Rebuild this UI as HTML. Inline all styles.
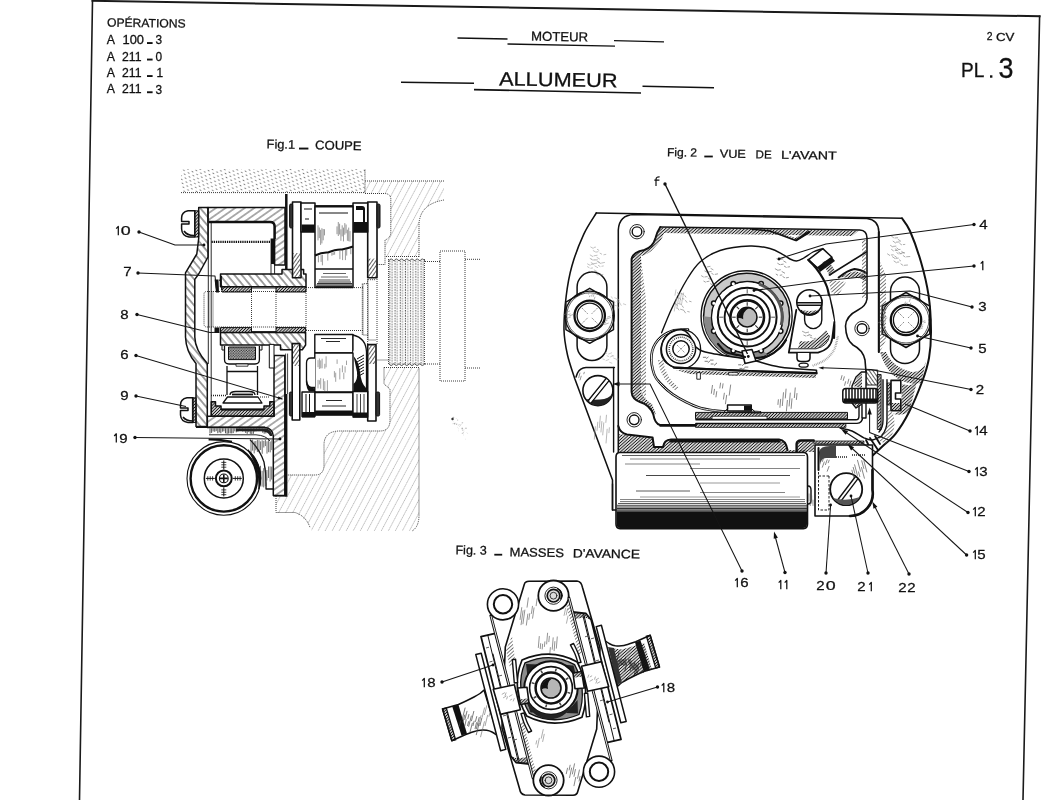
<!DOCTYPE html>
<html><head><meta charset="utf-8"><title>PL.3 Allumeur</title>
<style>
html,body{margin:0;padding:0;background:#fff;}
svg{display:block;filter:blur(0.45px);}
text{font-family:"Liberation Sans",sans-serif;fill:#111;}
</style></head><body>
<svg width="1061" height="800" viewBox="0 0 1061 800">
<rect width="1061" height="800" fill="#fff"/>
<g fill="none" stroke="#1a1a1a" stroke-width="1.6" stroke-linecap="square">
<path d="M79.5 800 L92.5 0.8 M1039.6 16.2 L1023 800"/>
<path d="M92.5 0.8 L1039.6 16.2" stroke-width="2"/>
</g>
<text x="107" y="26.5" font-size="12" textLength="78.5" lengthAdjust="spacingAndGlyphs" transform="rotate(0.9 107 26.5)" stroke="#111" stroke-width="0.28">OPÉRATIONS</text>
<text x="106.8" y="44" font-size="12" textLength="8.2" lengthAdjust="spacingAndGlyphs" stroke="#111" stroke-width="0.28">A</text>
<text x="122.5" y="44.2" font-size="12" textLength="21.5" lengthAdjust="spacingAndGlyphs" stroke="#111" stroke-width="0.28">100</text>
<rect x="147" y="42.1" width="5.6" height="1.9" fill="#111"/>
<text x="155.5" y="44.4" font-size="12" textLength="6.6" lengthAdjust="spacingAndGlyphs" stroke="#111" stroke-width="0.28">3</text>
<text x="106.8" y="60.5" font-size="12" textLength="8.2" lengthAdjust="spacingAndGlyphs" stroke="#111" stroke-width="0.28">A</text>
<text x="122" y="60.7" font-size="12" textLength="19.5" lengthAdjust="spacingAndGlyphs" stroke="#111" stroke-width="0.28">211</text>
<rect x="147" y="58.6" width="5.6" height="1.9" fill="#111"/>
<text x="155.5" y="60.9" font-size="12" textLength="6.6" lengthAdjust="spacingAndGlyphs" stroke="#111" stroke-width="0.28">0</text>
<text x="106.8" y="77" font-size="12" textLength="8.2" lengthAdjust="spacingAndGlyphs" stroke="#111" stroke-width="0.28">A</text>
<text x="122" y="77.2" font-size="12" textLength="19.5" lengthAdjust="spacingAndGlyphs" stroke="#111" stroke-width="0.28">211</text>
<rect x="147" y="75.1" width="5.6" height="1.9" fill="#111"/>
<text x="156.5" y="77.4" font-size="12" textLength="6.6" lengthAdjust="spacingAndGlyphs" stroke="#111" stroke-width="0.28">1</text>
<text x="106.8" y="93.2" font-size="12" textLength="8.2" lengthAdjust="spacingAndGlyphs" stroke="#111" stroke-width="0.28">A</text>
<text x="122" y="93.4" font-size="12" textLength="19.5" lengthAdjust="spacingAndGlyphs" stroke="#111" stroke-width="0.28">211</text>
<rect x="147" y="91.3" width="5.6" height="1.9" fill="#111"/>
<text x="155.5" y="93.60000000000001" font-size="12" textLength="6.6" lengthAdjust="spacingAndGlyphs" stroke="#111" stroke-width="0.28">3</text>
<text x="531" y="40.6" font-size="13" textLength="57" lengthAdjust="spacingAndGlyphs" transform="rotate(0.9 531 40.6)" stroke="#111" stroke-width="0.28">MOTEUR</text>
<g stroke="#111" stroke-width="1.3" fill="none">
<path d="M457.5 38 L507.5 39"/><path d="M507.5 44 L615 46.2"/><path d="M614 40.6 L664 41.8"/>
</g>
<text x="499" y="85.4" font-size="19.5" textLength="118.5" lengthAdjust="spacingAndGlyphs" transform="rotate(0.9 499 85.4)" stroke="#111" stroke-width="0.28">ALLUMEUR</text>
<g stroke="#111" stroke-width="1.6" fill="none">
<path d="M401 82.3 L474 83.2"/><path d="M474 89.6 L641 93"/><path d="M642.5 86.3 L714 87.8"/>
</g>
<text x="986.7" y="40.4" font-size="11.5" textLength="5.8" lengthAdjust="spacingAndGlyphs" stroke="#111" stroke-width="0.28">2</text>
<text x="996" y="40.6" font-size="11.5" textLength="18.5" lengthAdjust="spacingAndGlyphs" stroke="#111" stroke-width="0.28">CV</text>
<text x="961" y="77.3" font-size="19.5" textLength="23.3" lengthAdjust="spacingAndGlyphs" stroke="#111" stroke-width="0.28">PL</text>
<rect x="990" y="75.3" width="2.4" height="2.4" fill="#111"/>
<text x="998.6" y="78.2" font-size="30" textLength="15" lengthAdjust="spacingAndGlyphs" stroke="#111" stroke-width="0.28">3</text>
<text x="266.6" y="148.3" font-size="12.5" textLength="28.4" lengthAdjust="spacingAndGlyphs" transform="rotate(0.9 266.6 148.3)" stroke="#111" stroke-width="0.28">Fig.1</text>
<rect x="299" y="147.6" width="9.4" height="1.9" fill="#111"/>
<text x="315" y="149.3" font-size="12.5" textLength="46.6" lengthAdjust="spacingAndGlyphs" transform="rotate(0.9 315 149.3)" stroke="#111" stroke-width="0.28">COUPE</text>
<text x="667" y="156.2" font-size="11.8" textLength="30" lengthAdjust="spacingAndGlyphs" transform="rotate(0.9 667 156.2)" stroke="#111" stroke-width="0.28">Fig. 2</text>
<rect x="704.3" y="155.6" width="8.5" height="1.8" fill="#111"/>
<text x="719.7" y="157.5" font-size="11.5" textLength="26.1" lengthAdjust="spacingAndGlyphs" transform="rotate(0.9 719.7 157.5)" stroke="#111" stroke-width="0.28">VUE</text>
<text x="755.6" y="158.3" font-size="11.5" textLength="16" lengthAdjust="spacingAndGlyphs" transform="rotate(0.9 755.6 158.3)" stroke="#111" stroke-width="0.28">DE</text>
<text x="781" y="158.8" font-size="11.5" textLength="55.6" lengthAdjust="spacingAndGlyphs" transform="rotate(0.9 781 158.8)" stroke="#111" stroke-width="0.28">L'AVANT</text>
<text x="455.5" y="554.2" font-size="12.5" textLength="31.2" lengthAdjust="spacingAndGlyphs" transform="rotate(0.9 455.5 554.2)" stroke="#111" stroke-width="0.28">Fig. 3</text>
<rect x="494.3" y="553.8" width="7.9" height="1.8" fill="#111"/>
<text x="509.5" y="556.2" font-size="12.3" textLength="54.5" lengthAdjust="spacingAndGlyphs" transform="rotate(0.9 509.5 556.2)" stroke="#111" stroke-width="0.28">MASSES</text>
<text x="572.7" y="557.4" font-size="12.3" textLength="67.3" lengthAdjust="spacingAndGlyphs" transform="rotate(0.9 572.7 557.4)" stroke="#111" stroke-width="0.28">D'AVANCE</text>
<defs>
<pattern id="hR" width="5" height="5" patternUnits="userSpaceOnUse" patternTransform="rotate(-48)"><line x1="0" y1="2.5" x2="5" y2="2.5" stroke="#222" stroke-width="0.85"/></pattern>
<pattern id="hR2" width="5.5" height="5.5" patternUnits="userSpaceOnUse" patternTransform="rotate(-35)"><line x1="0" y1="2.75" x2="5.5" y2="2.75" stroke="#2a2a2a" stroke-width="0.75"/></pattern>
<pattern id="hL" width="5.6" height="5.6" patternUnits="userSpaceOnUse" patternTransform="rotate(50)"><line x1="0" y1="2.8" x2="5.6" y2="2.8" stroke="#222" stroke-width="0.85"/></pattern>
<pattern id="hR3" width="3" height="3" patternUnits="userSpaceOnUse" patternTransform="rotate(-55)"><line x1="0" y1="1.5" x2="3" y2="1.5" stroke="#1c1c1c" stroke-width="0.7"/></pattern>
<pattern id="hL3" width="3" height="3" patternUnits="userSpaceOnUse" patternTransform="rotate(55)"><line x1="0" y1="1.5" x2="3" y2="1.5" stroke="#1c1c1c" stroke-width="0.7"/></pattern>
<pattern id="dR" width="2.2" height="2.2" patternUnits="userSpaceOnUse" patternTransform="rotate(-45)"><line x1="0" y1="1.1" x2="2.2" y2="1.1" stroke="#111" stroke-width="1.1"/></pattern>
<pattern id="lt" width="6.2" height="6.2" patternUnits="userSpaceOnUse" patternTransform="rotate(-62)"><line x1="0" y1="3.1" x2="6.2" y2="3.1" stroke="#888" stroke-width="0.6" stroke-dasharray="1 0.55"/></pattern>
<pattern id="dots" width="5.4" height="6" patternUnits="userSpaceOnUse" patternTransform="rotate(30)"><line x1="0.6" y1="1.5" x2="2.2" y2="1.5" stroke="#6a6a6a" stroke-width="0.95"/><line x1="3.3" y1="4.5" x2="4.9" y2="4.5" stroke="#6a6a6a" stroke-width="0.95"/></pattern>
<pattern id="stip" width="2.6" height="2.6" patternUnits="userSpaceOnUse"><rect width="2.6" height="2.6" fill="#bbb"/><circle cx="0.7" cy="0.7" r="0.7" fill="#222"/><circle cx="2" cy="2" r="0.7" fill="#222"/></pattern>
<pattern id="thr" width="5.2" height="2.6" patternUnits="userSpaceOnUse" x="388.6" y="258"><line x1="1.2" y1="0" x2="1.2" y2="1.6" stroke="#4a4a4a" stroke-width="0.9"/><line x1="3.5" y1="0.6" x2="3.5" y2="2.2" stroke="#666" stroke-width="0.8"/></pattern>
<pattern id="shade" width="2.3" height="2.3" patternUnits="userSpaceOnUse" patternTransform="rotate(-42)"><line x1="0" y1="1.15" x2="2.3" y2="1.15" stroke="#1a1a1a" stroke-width="1.05"/></pattern>
<pattern id="shadeL" width="2.7" height="2.7" patternUnits="userSpaceOnUse" patternTransform="rotate(-42)"><line x1="0" y1="1.35" x2="2.7" y2="1.35" stroke="#444" stroke-width="0.7"/></pattern>
</defs>
<rect x="181" y="169" width="184" height="23.5" fill="url(#dots)"/>
<path d="M181 192.6 H365 V169.5" stroke="#3a3a3a" stroke-width="1" stroke-dasharray="1 1" fill="none" stroke-width="1.1"/>
<path d="M365 181 H444 V200 Q420 204 419 224 V256.5 H385 V240 Q390.8 238 390.8 232 V199 Q390 194 385 193.5 H365 Z" fill="url(#lt)"/>
<path d="M365 181 H444 M444 200 Q420 204 419 224 V257 M365 193.5 H385 Q390.8 194 390.8 199 V232 Q390.8 238 385 240 V264.5 H377 M386 256.5 H419" stroke="#3a3a3a" stroke-width="1" stroke-dasharray="1 1" fill="none"/>
<rect x="388.6" y="260" width="36" height="105" fill="url(#thr)"/>
<path d="M388.6 259 V365 M424.4 259 V365" stroke="#3a3a3a" stroke-width="1" stroke-dasharray="1 1" fill="none"/>
<path d="M388.6 261 q2.6 -4 5.2 0 q2.6 -4 5.2 0 q2.6 -4 5.2 0 q2.6 -4 5.2 0 q2.6 -4 5.2 0 q2.6 -4 5.2 0 q2.6 -4 5.2 0" stroke="#444" stroke-width="0.9" fill="none"/>
<path d="M388.6 363.5 q2.6 4 5.2 0 q2.6 4 5.2 0 q2.6 4 5.2 0 q2.6 4 5.2 0 q2.6 4 5.2 0 q2.6 4 5.2 0 q2.6 4 5.2 0" stroke="#444" stroke-width="0.9" fill="none"/>
<path d="M440 251 H465 V381 H440 Z M425 261.5 H440 M465 259.3 H480 M425 364 H440 M465 368 H480 M377.5 360 H389" stroke="#3a3a3a" stroke-width="1" stroke-dasharray="1 1" fill="none"/>
<path d="M384 367.5 H419 V515 Q419 527 412 531 H312 Q308 520 295 513 H276 V496 H287.5 V475 H315 Q324 475 324 465 V445 Q324 431 340 431 H380 Q390 431 390 420 V389 L384 384 Z" fill="url(#lt)"/>
<path d="M384 367.5 H419 V515 Q419 527 412 531 M384 367.5 V384 L390 389 V420 Q390 431 380 431 H340 Q324 431 324 445 V465 Q324 475 315 475 H287.5 M276 496 V512.5 H295 Q306 516 310 527.5" stroke="#3a3a3a" stroke-width="1" stroke-dasharray="1 1" fill="none"/>
<circle cx="457.8" cy="427.2" r="0.34" fill="#999" opacity="0.57"/>
<circle cx="458.6" cy="428.8" r="0.33" fill="#999" opacity="0.55"/>
<circle cx="452.7" cy="419.5" r="0.35" fill="#999" opacity="0.51"/>
<circle cx="466.9" cy="432.4" r="0.36" fill="#999" opacity="0.41"/>
<circle cx="463.3" cy="432.8" r="0.50" fill="#999" opacity="0.79"/>
<circle cx="452.8" cy="419.4" r="0.73" fill="#999" opacity="0.44"/>
<circle cx="454.6" cy="424.0" r="0.71" fill="#999" opacity="0.39"/>
<circle cx="462.5" cy="430.1" r="0.62" fill="#999" opacity="0.49"/>
<circle cx="461.9" cy="428.9" r="0.40" fill="#999" opacity="0.64"/>
<circle cx="459.7" cy="426.6" r="0.46" fill="#999" opacity="0.59"/>
<circle cx="460.2" cy="424.9" r="0.65" fill="#999" opacity="0.42"/>
<circle cx="462.3" cy="433.3" r="0.56" fill="#999" opacity="0.74"/>
<circle cx="465.1" cy="428.5" r="0.36" fill="#999" opacity="0.51"/>
<circle cx="465.6" cy="439.1" r="0.38" fill="#999" opacity="0.54"/>
<circle cx="452.7" cy="418.1" r="0.59" fill="#999" opacity="0.74"/>
<circle cx="457.6" cy="420.1" r="0.65" fill="#999" opacity="0.60"/>
<circle cx="462.4" cy="422.8" r="0.77" fill="#999" opacity="0.54"/>
<circle cx="464.0" cy="431.1" r="0.33" fill="#999" opacity="0.65"/>
<circle cx="463.6" cy="434.9" r="0.44" fill="#999" opacity="0.49"/>
<circle cx="464.0" cy="429.4" r="0.31" fill="#999" opacity="0.53"/>
<circle cx="455.0" cy="423.2" r="0.68" fill="#999" opacity="0.36"/>
<circle cx="456.5" cy="424.3" r="0.50" fill="#999" opacity="0.74"/>
<circle cx="453.5" cy="417.6" r="0.74" fill="#999" opacity="0.71"/>
<circle cx="467.6" cy="433.6" r="0.44" fill="#999" opacity="0.51"/>
<circle cx="458.5" cy="430.8" r="0.38" fill="#999" opacity="0.39"/>
<circle cx="456.2" cy="418.3" r="0.42" fill="#999" opacity="0.54"/>
<circle cx="462.6" cy="428.5" r="0.51" fill="#999" opacity="0.48"/>
<circle cx="462.2" cy="428.4" r="0.78" fill="#999" opacity="0.65"/>
<circle cx="461.3" cy="424.1" r="0.33" fill="#999" opacity="0.75"/>
<circle cx="466.0" cy="428.2" r="0.74" fill="#999" opacity="0.70"/>
<circle cx="459.1" cy="424.5" r="0.62" fill="#999" opacity="0.33"/>
<circle cx="453.2" cy="421.8" r="0.40" fill="#999" opacity="0.38"/>
<circle cx="458.1" cy="425.0" r="0.38" fill="#999" opacity="0.35"/>
<circle cx="458.5" cy="425.3" r="0.31" fill="#999" opacity="0.74"/>
<circle cx="463.1" cy="430.2" r="0.47" fill="#999" opacity="0.48"/>
<circle cx="454.2" cy="423.6" r="0.72" fill="#999" opacity="0.80"/>
<circle cx="460.4" cy="425.4" r="0.35" fill="#999" opacity="0.47"/>
<circle cx="456.8" cy="423.9" r="0.71" fill="#999" opacity="0.38"/>
<circle cx="452.4" cy="423.8" r="0.37" fill="#999" opacity="0.57"/>
<circle cx="452.5" cy="419.3" r="0.56" fill="#999" opacity="0.79"/>
<circle cx="452.5" cy="419" r="1.2" fill="#333"/>
<path d="M306 291.5 H207 Q204 291.5 204 294 V324 Q204 327 207 327 H306 M251.5 292 V328 M276 292 V328 M306 287.6 H363 V283.7 H367.7 V279.7 H376 M306 330.5 H363 V335 H368 V340 H376 M306 287 V331 M363 287.6 V330.5 M368 283.7 V335 M209 291.5 V327 M213 291.5 V327 M367.7 279 V344 M377 279 V344 M362.3 283.7 V335" stroke="#3a3a3a" stroke-width="1" stroke-dasharray="1 1" fill="none"/>
<path d="M198.7 207.5 V238.5 L196.8 254 L185.5 272.8 V337 Q186 352 196 363.5 V426.5 H207.3 V363.5 Q195 350 194.8 337 V279.4 L198.7 274 L208 257 V207.5 Z" fill="url(#hL)" stroke="#111" stroke-linejoin="round" stroke-width="1.5"/>
<path d="M208 207.5 H285 V265 H274.6 V226 Q274.6 222 270.6 222 H208 Z" fill="url(#hR2)" stroke="#111" stroke-linejoin="round" stroke-width="1.5"/>
<path d="M209 222 H270 Q274.6 222 274.6 226.5 V239" fill="none" stroke="#111" stroke-linejoin="round" stroke-width="2.4"/>
<rect x="270.6" y="238.5" width="4" height="25.5" fill="#111"/>
<path d="M274.6 264 V274 M271 264 V274" fill="none" stroke="#111" stroke-linejoin="round" stroke-width="0.9"/>
<path d="M211.2 222 V416 M208.3 222 V364" fill="none" stroke="#111" stroke-linejoin="round" stroke-width="0.9"/>
<path d="M211.5 241.8 H270" stroke="#111" stroke-width="2.2" stroke-dasharray="1.3 0.9" fill="none"/>
<path d="M194.8 210.8 H188 Q181.6 212 181.6 218 V221.5 H189 V224 H181.6 V229 Q182 236 189 237 H194.8 Z" fill="#fff" stroke="#111" stroke-linejoin="round" stroke-width="1.5"/>
<rect x="194.8" y="210.8" width="3.9" height="26.2" fill="url(#dR)" stroke="#111" stroke-linejoin="round" stroke-width="0.9"/>
<path d="M184 231 Q187 235.5 194 235.5" fill="none" stroke="#111" stroke-linejoin="round" stroke-width="1.6"/>
<path d="M193 397.8 H187 Q180.5 399 180.5 405 V408 H188 V410.5 H180.5 V415 Q181 421.5 188 422.5 H193 Z" fill="#fff" stroke="#111" stroke-linejoin="round" stroke-width="1.5"/>
<rect x="192.4" y="397.8" width="3.7" height="24.7" fill="url(#dR)" stroke="#111" stroke-linejoin="round" stroke-width="0.9"/>
<path d="M183 417 Q186 421 193 421" fill="none" stroke="#111" stroke-linejoin="round" stroke-width="1.6"/>
<path d="M207.3 416.3 H274 V355.6 H284.8 V495.5 H273.3 V436 Q272.5 428.3 265 427.6 H207.3 Z" fill="url(#hR2)" stroke="#111" stroke-linejoin="round" stroke-width="1.5"/>
<path d="M196 427.3 H265" fill="none" stroke="#111" stroke-linejoin="round" stroke-width="1.5"/>
<path d="M210.0 428.3 V433.5 M211.6 428.3 V432.9 M213.1 428.3 V431.4 M214.7 428.3 V431.8 M216.2 428.3 V431.1 M217.8 428.3 V433.2 M219.3 428.3 V432.4 M220.8 428.3 V433.2 M222.4 428.3 V431.7 M223.9 428.3 V431.3 M225.5 428.3 V433.3 M227.1 428.3 V433.9 M228.6 428.3 V433.5 M230.2 428.3 V433.3 M231.7 428.3 V433.4 M233.2 428.3 V433.1 M234.8 428.3 V431.3 M236.3 428.3 V432.3 M237.9 428.3 V431.7 M239.4 428.3 V430.6 M241.0 428.3 V430.6 M242.6 428.3 V431.5 M244.1 428.3 V431.4 M245.7 428.3 V432.9 M247.2 428.3 V433.8 M248.8 428.3 V432.1 M250.3 428.3 V433.8 M251.8 428.3 V434.0 M253.4 428.3 V433.8 M254.9 428.3 V431.8 M256.5 428.3 V431.3 M258.1 428.3 V431.3 M259.6 428.3 V431.2 M261.1 428.3 V431.2 M262.7 428.3 V432.7 M264.2 428.3 V433.7 M265.8 428.3 V433.4 M267.4 428.3 V432.2" stroke="#222" stroke-width="0.75" fill="none"/>
<path d="M236 428.6 H266 Q271.5 429.5 272.5 436 L270 436 Q268 431.5 262 431.2 H236Z" fill="#222"/>
<path d="M209 434.8 H256 Q266 435.5 270 441" fill="none" stroke="#111" stroke-linejoin="round" stroke-width="0.9"/>
<path d="M208.6 439.6 Q220 439.4 232 441.8" fill="none" stroke="#111" stroke-linejoin="round" stroke-width="2"/>
<path d="M250 439.6 Q260 450 264 462 Q266.5 474 266 489 H273.3" fill="none" stroke="#111" stroke-linejoin="round" stroke-width="1.3"/>
<path d="M251.0 440.8 V453.0 M252.6 439.7 V450.6 M254.2 441.3 V453.4 M255.8 441.0 V450.3 M257.4 439.9 V452.0 M259.0 440.2 V452.4 M260.6 441.4 V450.0 M262.2 440.3 V453.8 M263.8 440.9 V447.5 M265.4 439.8 V446.1 M267.0 441.3 V453.6 M268.6 439.8 V452.2 M270.2 441.5 V452.4 M271.8 440.2 V450.1 M260.5 465.8 V474.0 M262.1 470.8 V486.6 M263.7 468.2 V487.4 M265.3 467.6 V486.1 M266.9 470.0 V480.5 M268.5 466.5 V478.0 M270.1 466.4 V481.5 M271.7 466.6 V479.6" stroke="#333" stroke-width="0.7" fill="none"/>
<path d="M286.3 194 V269" stroke="#111" stroke-linejoin="round" stroke-width="2.5" fill="none"/>
<path d="M285.6 353.6 V394 M287.6 353.6 V394" stroke="#111" stroke-linejoin="round" stroke-width="0.8" fill="none"/>
<path d="M286.2 394 V496.5" stroke="#111" stroke-linejoin="round" stroke-width="2.4" fill="none"/>
<path d="M273.3 495.8 H287" stroke="#111" stroke-linejoin="round" stroke-width="1.4" fill="none"/>
<circle cx="223.8" cy="478.4" r="36.8" fill="#fff" stroke="#111" stroke-width="1.1"/>
<circle cx="223.8" cy="478.4" r="33.2" fill="none" stroke="#111" stroke-width="2.4"/>
<path d="M247.8 449.9 A37 37 0 0 1 258.8 489.4 A60 60 0 0 0 247.8 449.9Z" fill="#111" stroke="#111" stroke-width="1.2"/>
<circle cx="223.8" cy="478.4" r="19.5" fill="none" stroke="#111" stroke-width="1.5"/>
<circle cx="223.8" cy="478.4" r="7.9" fill="none" stroke="#111" stroke-width="2"/>
<circle cx="223.8" cy="478.4" r="4.4" fill="none" stroke="#111" stroke-width="1.1"/>
<path d="M223.8 474.4 V482.4 M219.8 478.4 H227.8" stroke="#111" stroke-width="1.6"/>
<path d="M223.8 460.4 V469.4 M223.8 487.4 V496.4 M205.8 478.4 H214.8 M232.8 478.4 H241.8" stroke="#111" stroke-width="1"/>
<path d="M221.3 462.4 h5 m-5 2.4 h5 m-5 2.4 h5 M221.3 489.9 h5 m-5 2.4 h5 m-5 2.4 h5 M207.8 476.2 v4.4 m2.4 -4.4 v4.4 m2.4 -4.4 v4.4 M235.3 476.2 v4.4 m2.4 -4.4 v4.4 m2.4 -4.4 v4.4" stroke="#111" stroke-width="0.8" fill="none"/>
<path d="M220.5 274 H282 V269.5 H303.6 V274 H306 V286.7 H220.5 Z" fill="url(#hL)" stroke="#111" stroke-linejoin="round" stroke-width="1.5"/>
<rect x="222" y="286.7" width="29.5" height="5.3" fill="url(#dR)" stroke="#111" stroke-linejoin="round" stroke-width="1"/>
<rect x="276" y="286.7" width="30" height="5.3" fill="url(#dR)" stroke="#111" stroke-linejoin="round" stroke-width="1"/>
<path d="M251.5 288 H276" stroke="#111" stroke-linejoin="round" stroke-width="0.9" fill="none"/>
<path d="M220.5 332.5 H305.6 V345 L302.3 349.7 H280.5 V345 H220.5 Z" fill="url(#hL)" stroke="#111" stroke-linejoin="round" stroke-width="1.5"/>
<rect x="220.5" y="327.6" width="31" height="5" fill="url(#dR)" stroke="#111" stroke-linejoin="round" stroke-width="1"/>
<rect x="276" y="327.6" width="29.6" height="5" fill="url(#dR)" stroke="#111" stroke-linejoin="round" stroke-width="1"/>
<path d="M251.5 331.5 H276" stroke="#111" stroke-linejoin="round" stroke-width="0.9" fill="none"/>
<path d="M214.6 279.4 L218.5 279.4 L219 292.6 L216 292.6 Z" fill="#111"/>
<path d="M219.5 281 L221.5 276 V290" stroke="#111" stroke-linejoin="round" stroke-width="0.9" fill="none"/>
<path d="M214.5 327.5 H219.5 V333 H214.5Z" fill="#111"/>
<path d="M222 345 V350 H224.5 M262 345 V350 H259.4" stroke="#111" stroke-linejoin="round" stroke-width="1" fill="none"/>
<path d="M224.5 346 V359.5 Q224.5 364 229 364 H255 Q259.4 364 259.4 359.5 V346" fill="#fff" stroke="#111" stroke-linejoin="round" stroke-width="1.3"/>
<rect x="228.5" y="347" width="27" height="12.6" fill="url(#stip)" stroke="#111" stroke-linejoin="round" stroke-width="1"/>
<rect x="236" y="364" width="12" height="2.2" fill="#fff" stroke="#111" stroke-linejoin="round" stroke-width="0.8"/>
<path d="M227 366 V395 M257.5 366 V395 M227 371.5 H257.5" stroke="#111" stroke-linejoin="round" stroke-width="1.3" fill="none"/>
<path d="M230 395 Q230 391.5 236 391.5 H249 Q255 391.5 255 395 M227.5 397 H258 L262 403 H223 Z" fill="#fff" stroke="#111" stroke-linejoin="round" stroke-width="1.3"/>
<path d="M232 394.5 H253" stroke="#111" stroke-linejoin="round" stroke-width="1.8"/>
<path d="M211 395.5 H227" stroke="#222" stroke-width="1.4" stroke-dasharray="1 1"/>
<path d="M260 397 H270" stroke="#222" stroke-width="1" stroke-dasharray="1 1"/>
<path d="M211.3 401.8 H215.5 V406 H221 V409.5 H264 V406 H269.8 V401.8 H274 V416.3 H211.3 Z" fill="url(#dR)" stroke="#111" stroke-linejoin="round" stroke-width="1.5"/>
<path d="M221 409.5 H264" stroke="#111" stroke-linejoin="round" stroke-width="1.8"/>
<rect x="269.3" y="344.4" width="4.7" height="23.6" fill="#fff" stroke="#111" stroke-linejoin="round" stroke-width="1"/>
<rect x="292.5" y="202" width="8.5" height="75.69999999999999" fill="#fff" stroke="#111" stroke-linejoin="round" stroke-width="1.6"/>
<rect x="293.1" y="253" width="7.3" height="24" fill="url(#hR3)"/>
<rect x="367.7" y="202" width="9.300000000000011" height="75.69999999999999" fill="#fff" stroke="#111" stroke-linejoin="round" stroke-width="1.6"/>
<rect x="368.3" y="258.6" width="8.100000000000012" height="18.399999999999977" fill="url(#hR3)"/>
<rect x="292.2" y="343.6" width="7.600000000000023" height="76.39999999999998" fill="#fff" stroke="#111" stroke-linejoin="round" stroke-width="1.6"/>
<rect x="292.8" y="344.5" width="6.400000000000023" height="21.5" fill="url(#hR3)"/>
<rect x="367.7" y="344.6" width="8.300000000000011" height="76.39999999999998" fill="#fff" stroke="#111" stroke-linejoin="round" stroke-width="1.6"/>
<rect x="368.3" y="345.5" width="7.100000000000011" height="18.5" fill="url(#hR3)"/>
<rect x="289.6" y="204" width="3" height="24" rx="1.4" fill="#333" stroke="#111" stroke-linejoin="round" stroke-width="1"/>
<rect x="377" y="204" width="3" height="24" rx="1.4" fill="#333" stroke="#111" stroke-linejoin="round" stroke-width="1"/>
<rect x="289.4" y="392" width="3" height="24" rx="1.4" fill="#333" stroke="#111" stroke-linejoin="round" stroke-width="1"/>
<rect x="376" y="392" width="3.6" height="24" rx="1.4" fill="#333" stroke="#111" stroke-linejoin="round" stroke-width="1"/>
<rect x="301" y="203" width="14" height="29" fill="#fff" stroke="#111" stroke-linejoin="round" stroke-width="1.5"/>
<rect x="301.6" y="224.5" width="13" height="7.5" fill="#111"/>
<path d="M304 209 H312 M305 219 H309" stroke="#111" stroke-linejoin="round" stroke-width="1" fill="none"/>
<rect x="353" y="203" width="14.7" height="29" fill="#fff" stroke="#111" stroke-linejoin="round" stroke-width="1.5"/>
<path d="M353.6 222 H367 V232 H353.6Z M356 206 H362 Q365 206 365 209 V222 H363 V210 H356Z" fill="#111"/>
<path d="M315 206 H353 V287.6 H315 Z" fill="#fff" stroke="#111" stroke-linejoin="round" stroke-width="1.5"/>
<path d="M315 206.3 H353" stroke="#111" stroke-linejoin="round" stroke-width="2.2"/>
<path d="M319 213 H348" stroke="#111" stroke-linejoin="round" stroke-width="1"/>
<path d="M315 255.5 Q322 252 328 252.5 Q336 249 342 249.5 Q349 248 353 246.5" fill="none" stroke="#111" stroke-linejoin="round" stroke-width="2"/>
<path d="M315 269 H353" stroke="#111" stroke-linejoin="round" stroke-width="1.3"/>
<path d="M318.0 225.3 V240.4" stroke="#444" stroke-width="0.55"/>
<path d="M319.3 227.5 V238.1" stroke="#444" stroke-width="0.55"/>
<path d="M320.6 229.8 V244.9" stroke="#444" stroke-width="0.55"/>
<path d="M321.9 228.2 V243.4" stroke="#444" stroke-width="0.55"/>
<path d="M323.2 229.0 V240.3" stroke="#444" stroke-width="0.55"/>
<path d="M324.5 229.2 V235.4" stroke="#444" stroke-width="0.55"/>
<path d="M337.0 226.4 V234.2" stroke="#444" stroke-width="0.55"/>
<path d="M338.3 222.0 V236.0" stroke="#444" stroke-width="0.55"/>
<path d="M339.6 223.7 V234.5" stroke="#444" stroke-width="0.55"/>
<path d="M340.9 229.3 V240.8" stroke="#444" stroke-width="0.55"/>
<path d="M342.2 225.3 V236.4" stroke="#444" stroke-width="0.55"/>
<path d="M343.5 227.6 V241.4" stroke="#444" stroke-width="0.55"/>
<path d="M344.8 223.1 V234.7" stroke="#444" stroke-width="0.55"/>
<path d="M346.1 224.5 V233.3" stroke="#444" stroke-width="0.55"/>
<path d="M347.4 229.7 V240.8" stroke="#444" stroke-width="0.55"/>
<path d="M348.7 227.6 V241.2" stroke="#444" stroke-width="0.55"/>
<path d="M350.0 231.1 V241.6" stroke="#444" stroke-width="0.55"/>
<path d="M318.4 255.7 V262.3" stroke="#444" stroke-width="0.55"/>
<path d="M321.1 255.1 V261.9" stroke="#444" stroke-width="0.55"/>
<path d="M322.4 254.8 V265.3" stroke="#444" stroke-width="0.55"/>
<path d="M327.8 253.6 V260.6" stroke="#444" stroke-width="0.55"/>
<path d="M331.9 252.6 V255.7" stroke="#444" stroke-width="0.55"/>
<path d="M333.2 252.3 V255.0" stroke="#444" stroke-width="0.55"/>
<path d="M334.6 252.0 V254.7" stroke="#444" stroke-width="0.55"/>
<path d="M339.9 250.8 V259.2" stroke="#444" stroke-width="0.55"/>
<path d="M342.6 250.1 V260.1" stroke="#444" stroke-width="0.55"/>
<path d="M345.4 249.5 V260.1" stroke="#444" stroke-width="0.55"/>
<path d="M346.7 249.2 V255.6" stroke="#444" stroke-width="0.55"/>
<path d="M350.8 248.3 V254.2" stroke="#444" stroke-width="0.55"/>
<path d="M323 273.5 H346" stroke="#222" stroke-width="0.7"/>
<path d="M321 277 H348" stroke="#222" stroke-width="0.7"/>
<path d="M319 280 H350" stroke="#222" stroke-width="0.8"/>
<path d="M318 282 H351" stroke="#222" stroke-width="0.9"/>
<path d="M317 283.6 H352" stroke="#222" stroke-width="1.0"/>
<path d="M316.5 285 H352" stroke="#222" stroke-width="1.1"/>
<path d="M316 286.3 H352.5" stroke="#222" stroke-width="1.2"/>
<path d="M314.8 334.5 H353 V353 H314.8 Z" fill="#fff" stroke="#111" stroke-linejoin="round" stroke-width="1.4"/>
<path d="M321 338.5 H346 M326 341.5 H340" stroke="#111" stroke-linejoin="round" stroke-width="0.9"/>
<path d="M353 335 Q366 338 366.5 352 V392 H353 Z" fill="#fff" stroke="#111" stroke-linejoin="round" stroke-width="1.3"/>
<path d="M353 350 Q361 366 365 390 L353 392 Z" fill="#fff"/>
<path d="M353.5 356 Q359 362 360 372 Q361 383 366 388 V392 H353.5 V384 Q358 380 357 372 Z" fill="#111"/>
<path d="M357 359 L364 355" stroke="#111" stroke-width="1"/>
<path d="M357 362 L364 358" stroke="#111" stroke-width="1"/>
<path d="M357 365 L364 361" stroke="#111" stroke-width="1"/>
<path d="M357 368 L364 364" stroke="#111" stroke-width="1"/>
<path d="M357 371 L364 367" stroke="#111" stroke-width="1"/>
<path d="M357 374 L364 370" stroke="#111" stroke-width="1"/>
<path d="M357 377 L364 373" stroke="#111" stroke-width="1"/>
<path d="M314.8 353 H353 V392 H314.8 Z" fill="#fff" stroke="#111" stroke-linejoin="round" stroke-width="1.4"/>
<path d="M318.0 360.1 V367.2" stroke="#555" stroke-width="0.55"/>
<path d="M319.4 358.5 V369.0" stroke="#555" stroke-width="0.55"/>
<path d="M320.7 360.4 V368.4" stroke="#555" stroke-width="0.55"/>
<path d="M322.1 358.7 V368.3" stroke="#555" stroke-width="0.55"/>
<path d="M324.8 363.8 V368.7" stroke="#555" stroke-width="0.55"/>
<path d="M326.1 356.3 V367.3" stroke="#555" stroke-width="0.55"/>
<path d="M334.4 371.1 V377.4" stroke="#555" stroke-width="0.55"/>
<path d="M335.7 372.7 V381.8" stroke="#555" stroke-width="0.55"/>
<path d="M337.1 359.4 V363.9" stroke="#555" stroke-width="0.55"/>
<path d="M339.8 368.2 V379.4" stroke="#555" stroke-width="0.55"/>
<path d="M342.4 365.3 V372.3" stroke="#555" stroke-width="0.55"/>
<path d="M343.8 372.8 V379.2" stroke="#555" stroke-width="0.55"/>
<path d="M345.1 366.4 V372.6" stroke="#555" stroke-width="0.55"/>
<path d="M346.5 360.6 V365.0" stroke="#555" stroke-width="0.55"/>
<path d="M318.0 379.9 V388.4" stroke="#555" stroke-width="0.55"/>
<path d="M319.4 380.3 V384.4" stroke="#555" stroke-width="0.55"/>
<path d="M320.7 378.1 V388.7" stroke="#555" stroke-width="0.55"/>
<path d="M323.4 378.7 V390.1" stroke="#555" stroke-width="0.55"/>
<path d="M324.8 381.2 V391.0" stroke="#555" stroke-width="0.55"/>
<path d="M327.4 380.2 V391.0" stroke="#555" stroke-width="0.55"/>
<path d="M315 358 H311 Q306.5 358 306.5 363 V382 Q306.5 387.5 312 387.5 H315" fill="#fff" stroke="#111" stroke-linejoin="round" stroke-width="1.3"/>
<path d="M307 380 Q308 388 315 388.5 V391.5 H309 Q305.5 388 307 380Z" fill="#111"/>
<rect x="302" y="392" width="13" height="24.5" fill="#fff" stroke="#111" stroke-linejoin="round" stroke-width="1.4"/>
<path d="M306 394 V414 M309.5 394 V414" stroke="#111" stroke-linejoin="round" stroke-width="1"/>
<rect x="315" y="392.5" width="38" height="22" fill="#fff" stroke="#111" stroke-linejoin="round" stroke-width="1.4"/>
<path d="M326 400.5 H342 M322 406 H346" stroke="#111" stroke-linejoin="round" stroke-width="0.9"/>
<path d="M315 410.5 H353 V415.8 H315Z" fill="#111"/>
<path d="M302 412 H315 V417.5 H302Z" fill="#111"/>
<rect x="353" y="391.5" width="14.7" height="25.5" fill="#fff" stroke="#111" stroke-linejoin="round" stroke-width="1.4"/>
<path d="M357 394 V415 M360.5 394 V415 M364 394 V415" stroke="#111" stroke-linejoin="round" stroke-width="0.8"/>
<path d="M353 412.5 H367.7 V417.5 H353Z" fill="#111"/>
<path d="M596.3 213.0 C594.2 216.6 587.8 225.5 583.7 234.3 C579.6 243.1 574.8 255.7 571.9 266.0 C569.0 276.3 567.5 285.3 566.2 296.0 C564.9 306.7 563.8 320.2 564.0 330.0 C564.2 339.8 565.7 346.9 567.5 355.0 C569.3 363.1 573.6 374.8 574.8 378.7 L612.5 480 V510" fill="none" stroke="#111" stroke-linejoin="round" stroke-linecap="round" stroke-width="1.55"/>
<path d="M596.3 213 L902 218.3" fill="none" stroke="#111" stroke-linejoin="round" stroke-linecap="round" stroke-width="1.55"/>
<path d="M902.0 218.3 C903.3 220.4 906.8 223.7 910.0 231.0 C913.2 238.3 917.9 251.3 921.0 262.0 C924.1 272.7 926.8 283.7 928.5 295.0 C930.2 306.3 930.9 319.5 931.0 330.0 C931.1 340.5 930.5 349.3 929.0 358.0 C927.5 366.7 925.4 372.9 922.0 382.0 C918.6 391.1 913.1 404.2 908.7 412.8 C904.3 421.4 899.9 428.3 895.5 433.9 C891.1 439.5 886.2 442.8 882.3 446.5 C878.3 450.2 873.5 454.7 871.8 456.3" fill="none" stroke="#111" stroke-linejoin="round" stroke-linecap="round" stroke-width="2"/>
<path d="M618.3 452 V230 Q619 215 634 214.4 L867 218.6 Q878.6 220 878.8 232 V352" fill="none" stroke="#111" stroke-linejoin="round" stroke-linecap="round" stroke-width="1.55"/>
<path d="M878.8 232 V352" fill="none" stroke="#111" stroke-linejoin="round" stroke-linecap="round" stroke-width="2"/>
<path d="M660.3 227 L859.7 230 Q867 230.5 867 238 V299 Q866 306 858 310 Q846 316 845.5 326 Q846 340 853 345 Q863 350 865 360 L866 372" fill="none" stroke="#111" stroke-linejoin="round" stroke-linecap="round" stroke-width="1.6"/>
<path d="M660.3 227 Q657 232 655.5 238 Q653 247 644.4 250 Q633 252 631.6 259 V392 Q632 399 640 402 Q650 405 653.3 414.4 Q655 424 660 425 H696" fill="none" stroke="#111" stroke-linejoin="round" stroke-linecap="round" stroke-width="2"/>
<path d="M660.3 227.5 L859 230.5 L852 236 L664 233 Q662 240 655 247 Q648 255 641 256 V392 Q645 400 652 404 L656 414 L653 414.4 Q650 405 640 402 Q632 399 631.6 392 V259 Q633 252 644.4 250 Q653 247 655.5 238 Z" fill="url(#shade)"/>
<path d="M641 258 V392 L646 398 V300 Z" fill="url(#shadeL)"/>
<circle cx="637" cy="231.7" r="7.2" fill="#fff" stroke="#111" stroke-linejoin="round" stroke-linecap="round" stroke-width="0.9"/>
<circle cx="637" cy="231.7" r="4.8" fill="#fff" stroke="#111" stroke-linejoin="round" stroke-linecap="round" stroke-width="1.4"/>
<circle cx="634.2" cy="419.8" r="7.2" fill="#fff" stroke="#111" stroke-linejoin="round" stroke-linecap="round" stroke-width="0.9"/>
<circle cx="634.2" cy="419.8" r="4.8" fill="#fff" stroke="#111" stroke-linejoin="round" stroke-linecap="round" stroke-width="1.4"/>
<circle cx="862" cy="328.5" r="7.2" fill="#fff" stroke="#111" stroke-linejoin="round" stroke-linecap="round" stroke-width="0.9"/>
<circle cx="862" cy="328.5" r="4.8" fill="#fff" stroke="#111" stroke-linejoin="round" stroke-linecap="round" stroke-width="1.4"/>
<path d="M577.1 287 A14.9 14.9 0 0 1 606.9 287 V345.6 A14.9 14.9 0 0 1 577.1 345.6 Z" fill="#fff" stroke="#111" stroke-linejoin="round" stroke-linecap="round" stroke-width="1.5"/>
<path d="M589.7 288.3 L565.9 302.1 L565.9 329.6 L589.7 343.3 L613.5 329.6 L613.5 302.1Z" fill="#fff" stroke="#111" stroke-linejoin="round" stroke-linecap="round" stroke-width="1.5"/>
<circle cx="589.7" cy="315.8" r="24.6" fill="none" stroke="#111" stroke-linejoin="round" stroke-linecap="round" stroke-width="1.3"/>
<circle cx="589.7" cy="315.8" r="23" fill="none" stroke="#111" stroke-linejoin="round" stroke-linecap="round" stroke-width="0.7"/>
<circle cx="589.7" cy="315.8" r="15.2" fill="none" stroke="#111" stroke-linejoin="round" stroke-linecap="round" stroke-width="2.3"/>
<path d="M578.7 322.3 A12.6 12.6 0 0 0 601.2 321.3 A14 14 0 0 1 578.7 322.3Z" fill="#333"/>
<circle cx="589.7" cy="315.8" r="12.6" fill="none" stroke="#111" stroke-linejoin="round" stroke-linecap="round" stroke-width="1.3"/>
<path d="M591.8 317.9 L597.5 323.6" stroke="#555" stroke-width="0.8" stroke-dasharray="1.2 1"/>
<path d="M587.6 317.9 L581.9 323.6" stroke="#555" stroke-width="0.8" stroke-dasharray="1.2 1"/>
<path d="M587.6 313.7 L581.9 308.0" stroke="#555" stroke-width="0.8" stroke-dasharray="1.2 1"/>
<path d="M591.8 313.7 L597.5 308.0" stroke="#555" stroke-width="0.8" stroke-dasharray="1.2 1"/>
<path d="M570.0 310.9 L565.8 312.4 M567.3 313.4 L563.4 314.8 M570.6 313.8 L566.3 315.4 M573.3 314.4 L569.3 315.9 M570.8 316.9 L565.7 318.8" stroke="#777" stroke-width="0.55" fill="none"/>
<path d="M610.4 316.0 L607.2 317.2 M611.0 317.4 L605.8 319.3 M607.4 320.3 L605.1 321.1 M606.0 322.4 L600.2 324.5 M608.7 323.0 L604.2 324.6" stroke="#777" stroke-width="0.55" fill="none"/>
<path d="M589.1 292.8 L588.5 294.5 M590.0 295.4 L589.3 297.2 M592.3 294.2 L591.4 296.5 M594.2 293.9 L593.1 296.9 M595.1 296.7 L593.6 300.8" stroke="#777" stroke-width="0.55" fill="none"/>
<path d="M890.5 291.5 A14.5 14.5 0 0 1 919.5 291.5 V349 A14.5 14.5 0 0 1 890.5 349 Z" fill="#fff" stroke="#111" stroke-linejoin="round" stroke-linecap="round" stroke-width="1.5"/>
<path d="M906.0 292.5 L882.2 306.2 L882.2 333.8 L906.0 347.5 L929.8 333.8 L929.8 306.2Z" fill="#fff" stroke="#111" stroke-linejoin="round" stroke-linecap="round" stroke-width="1.5"/>
<circle cx="906" cy="320" r="24.6" fill="none" stroke="#111" stroke-linejoin="round" stroke-linecap="round" stroke-width="1.3"/>
<circle cx="906" cy="320" r="23" fill="none" stroke="#111" stroke-linejoin="round" stroke-linecap="round" stroke-width="0.7"/>
<circle cx="906" cy="320" r="15.2" fill="none" stroke="#111" stroke-linejoin="round" stroke-linecap="round" stroke-width="2.3"/>
<path d="M895 326.5 A12.6 12.6 0 0 0 917.5 325.5 A14 14 0 0 1 895 326.5Z" fill="#333"/>
<circle cx="906" cy="320" r="12.6" fill="none" stroke="#111" stroke-linejoin="round" stroke-linecap="round" stroke-width="1.3"/>
<path d="M908.1 322.1 L913.8 327.8" stroke="#555" stroke-width="0.8" stroke-dasharray="1.2 1"/>
<path d="M903.9 322.1 L898.2 327.8" stroke="#555" stroke-width="0.8" stroke-dasharray="1.2 1"/>
<path d="M903.9 317.9 L898.2 312.2" stroke="#555" stroke-width="0.8" stroke-dasharray="1.2 1"/>
<path d="M908.1 317.9 L913.8 312.2" stroke="#555" stroke-width="0.8" stroke-dasharray="1.2 1"/>
<path d="M885.8 315.2 L881.3 316.9 M886.5 316.6 L881.9 318.3 M887.3 317.9 L884.1 319.0 M884.1 320.6 L878.2 322.8 M885.7 321.7 L880.9 323.4" stroke="#777" stroke-width="0.55" fill="none"/>
<path d="M925.2 320.7 L922.2 321.8 M925.9 322.1 L923.5 322.9 M923.2 324.7 L919.6 326.0 M923.2 326.3 L919.6 327.6 M922.9 327.9 L917.6 329.9" stroke="#777" stroke-width="0.55" fill="none"/>
<path d="M905.7 296.2 L904.8 298.4 M905.6 301.6 L904.5 304.6 M907.1 302.5 L906.1 305.3 M910.5 298.4 L909.2 301.9 M910.8 302.7 L909.9 305.1" stroke="#777" stroke-width="0.55" fill="none"/>
<path d="M590.4 246.8 l3.1 1.8 M593.6 247.5 l2.3 -0.4 M597.0 249.2 l2.2 1.3 M592.9 250.4 l3.0 1.8 M596.0 252.1 l2.4 -0.4 M599.7 253.0 l2.3 1.3 M603.5 254.8 l2.7 -0.5 M589.9 254.8 l3.2 1.9 M593.6 255.9 l3.9 -0.7 M596.7 257.3 l3.1 1.8 M590.8 258.8 l2.0 1.2 M594.5 260.2 l3.2 -0.6 M597.7 261.7 l3.4 2.0 M601.2 263.1 l3.7 -0.7 M587.2 263.7 l3.2 1.8 M590.7 264.5 l3.5 -0.6 M594.6 265.8 l3.4 2.0" stroke="#999" stroke-width="0.6" fill="none"/>
<path d="M589.8 258.3 l2.1 1.2 M592.8 260.1 l2.6 -0.5 M596.7 260.8 l3.2 1.8 M590.8 262.4 l3.0 1.7 M594.0 263.7 l3.2 -0.6 M598.1 265.3 l2.3 1.4 M601.5 266.3 l2.2 -0.4 M587.2 266.5 l2.2 1.3 M590.5 268.3 l2.4 -0.4 M593.9 269.8 l3.4 2.0 M589.6 271.2 l2.1 1.2 M592.5 272.1 l3.8 -0.7 M596.4 274.1 l1.9 1.1 M599.8 275.0 l3.5 -0.6" stroke="#999" stroke-width="0.6" fill="none"/>
<path d="M891.3 236.1 l2.6 1.8 M894.5 238.0 l3.5 -0.3 M897.8 239.2 l3.2 2.2 M892.8 241.0 l3.1 2.2 M896.0 242.2 l3.7 -0.3 M899.5 243.3 l2.4 1.7 M902.9 244.6 l2.3 -0.2 M890.2 245.2 l2.9 2.0 M893.1 246.4 l3.2 -0.3 M896.5 247.8 l1.9 1.3 M891.2 249.2 l2.5 1.8 M894.8 250.6 l3.1 -0.3 M898.5 252.1 l2.2 1.5 M901.4 252.9 l3.4 -0.3 M887.2 253.7 l2.8 1.9 M890.9 255.0 l2.8 -0.2 M894.4 255.8 l2.4 1.7" stroke="#777" stroke-width="0.6" fill="none"/>
<path d="M894.9 248.7 l2.4 1.7 M898.1 249.6 l2.4 -0.2 M901.4 251.3 l3.1 2.1 M896.5 252.5 l2.1 1.4 M899.5 253.8 l2.6 -0.2 M902.9 255.4 l2.5 1.8 M906.2 256.8 l4.0 -0.3 M892.1 256.5 l3.1 2.2 M895.5 258.4 l3.2 -0.3 M899.1 259.7 l1.8 1.3 M893.7 260.8 l3.0 2.1 M896.9 262.2 l2.3 -0.2 M900.6 263.7 l2.7 1.9 M904.0 265.3 l3.9 -0.3" stroke="#777" stroke-width="0.6" fill="none"/>
<path d="M611.2 296.4 l1.3 2.2 M614.4 297.7 l3.3 1.2 M618.0 298.8 l1.4 2.4 M613.2 299.9 l1.8 3.1 M616.5 301.3 l3.6 1.3 M619.6 302.7 l1.8 3.0 M623.0 303.7 l3.1 1.1 M610.1 303.3 l1.9 3.3 M613.8 304.9 l2.9 1.0 M617.1 305.6 l1.7 3.0" stroke="#aaa" stroke-width="0.6" fill="none"/>
<path d="M604.7 352.6 l2.4 0.9 M608.3 354.1 l3.7 -1.4 M611.5 355.2 l2.6 0.9 M606.7 355.7 l2.2 0.8 M609.8 357.1 l3.4 -1.2 M613.3 358.0 l3.4 1.3 M616.3 359.9 l2.4 -0.9 M602.5 358.9 l2.3 0.8 M605.7 360.7 l3.5 -1.3 M609.3 362.2 l2.9 1.1" stroke="#aaa" stroke-width="0.6" fill="none"/>
<path d="M880 262 V352 L886 340 V275 Z" fill="url(#shadeL)"/>
<path d="M886 352 Q893 368 912 372 Q922 372 926 362 L921 383 Q905 386 893 375 Q884 366 880 352 Z" fill="url(#shade)"/>
<path d="M661.6 332.8 C663.3 328.7 667.8 316.8 672.0 308.0 C676.2 299.2 681.9 287.7 686.6 280.0 C691.3 272.3 694.4 266.9 700.0 262.0 C705.6 257.1 711.7 253.2 720.0 250.5 C728.3 247.8 741.7 246.3 750.0 246.0 C758.3 245.7 764.5 247.1 770.0 248.5 C775.5 249.9 779.7 252.8 783.0 254.6 C786.3 256.4 787.8 257.9 790.0 259.0 C792.2 260.1 794.2 261.1 796.4 261.0 C798.6 260.9 800.2 260.0 803.0 258.5 C805.8 257.0 809.7 253.7 813.0 252.0 C816.3 250.3 821.2 249.2 822.8 248.6" fill="none" stroke="#111" stroke-linejoin="round" stroke-linecap="round" stroke-width="1.4"/>
<path d="M822.8 248.6 L832 257.2 L817.5 267.8 L808.3 259.9 Z" fill="#fff" stroke="#111" stroke-linejoin="round" stroke-linecap="round" stroke-width="1.55"/>
<path d="M817.5 267.8 L832 257.2 L835 261 L820 272 Z" fill="#111"/>
<path d="M808.3 259.9 C809.6 261.2 813.6 264.9 816.0 268.0 C818.4 271.1 821.0 275.1 822.8 278.3 C824.6 281.5 825.9 283.9 827.0 287.0 C828.1 290.1 828.6 293.3 829.4 296.8 C830.2 300.3 831.4 304.9 832.0 308.0 C832.6 311.1 832.9 312.5 833.3 315.3 C833.7 318.1 834.2 321.2 834.3 325.0 C834.4 328.8 834.0 335.8 834.0 338.0" fill="none" stroke="#111" stroke-linejoin="round" stroke-linecap="round" stroke-width="2.2"/>
<path d="M752 229.2 L770 231 L795.7 240.5 L809.6 231.8" fill="none" stroke="#111" stroke-linejoin="round" stroke-linecap="round" stroke-width="1.4"/>
<path d="M770 231 L795.7 240.5 L809.6 231.8 L806 231.5 L795.5 238 L775 231.2Z" fill="url(#shade)"/>
<path d="M795.7 240.5 L809.6 231.8" stroke="#111" stroke-width="2.4"/>
<path d="M829.4 275 L866.3 252" fill="none" stroke="#111" stroke-linejoin="round" stroke-linecap="round" stroke-width="1.5"/>
<path d="M838.6 277.5 Q848 270 854.4 269 Q861 269.5 866.3 273" fill="none" stroke="#111" stroke-linejoin="round" stroke-linecap="round" stroke-width="2"/>
<path d="M822 262 L830 276 L836 272 L828 260 Z" fill="url(#shade)"/>
<path d="M840 277 Q850 271.5 856 271.5 Q862 272 866 275 L866 281 Q858 276 850 278 Z" fill="url(#shade)"/>
<path d="M829 280 L846 282 L838 296 L831 292Z" fill="url(#shadeL)"/>
<path d="M862 240 H867 V298 H862Z" fill="url(#shadeL)"/>
<circle cx="746.6" cy="316.2" r="45.5" fill="#fff" stroke="#111" stroke-linejoin="round" stroke-linecap="round" stroke-width="1.4"/>
<circle cx="746.6" cy="316.2" r="43" fill="#c9c9c9" stroke="#111" stroke-linejoin="round" stroke-linecap="round" stroke-width="1.55"/>
<path d="M703.6 316.2 A43 43 0 0 0 767.2 354.2 L761.2 349.2 A36 36 0 0 1 711.2 317.2 Z" fill="#888"/>
<circle cx="747.2" cy="317.2" r="35.6" fill="#fff" stroke="#111" stroke-linejoin="round" stroke-linecap="round" stroke-width="1.6"/>
<circle cx="780.6" cy="331.1" r="2.3" fill="#fff" stroke="#111" stroke-linejoin="round" stroke-linecap="round" stroke-width="1.5"/>
<circle cx="761.1" cy="350.6" r="2.3" fill="#fff" stroke="#111" stroke-linejoin="round" stroke-linecap="round" stroke-width="1.5"/>
<circle cx="733.3" cy="350.6" r="2.3" fill="#fff" stroke="#111" stroke-linejoin="round" stroke-linecap="round" stroke-width="1.5"/>
<circle cx="713.8" cy="331.1" r="2.3" fill="#fff" stroke="#111" stroke-linejoin="round" stroke-linecap="round" stroke-width="1.5"/>
<circle cx="713.8" cy="303.3" r="2.3" fill="#fff" stroke="#111" stroke-linejoin="round" stroke-linecap="round" stroke-width="1.5"/>
<circle cx="733.3" cy="283.8" r="2.3" fill="#fff" stroke="#111" stroke-linejoin="round" stroke-linecap="round" stroke-width="1.5"/>
<circle cx="761.1" cy="283.8" r="2.3" fill="#fff" stroke="#111" stroke-linejoin="round" stroke-linecap="round" stroke-width="1.5"/>
<circle cx="780.6" cy="303.3" r="2.3" fill="#fff" stroke="#111" stroke-linejoin="round" stroke-linecap="round" stroke-width="1.5"/>
<circle cx="747.2" cy="317.2" r="34.9" fill="#fff"/>
<circle cx="747.2" cy="317.2" r="29.4" fill="#fff" stroke="#111" stroke-linejoin="round" stroke-linecap="round" stroke-width="2"/>
<circle cx="747.2" cy="317.2" r="22.6" fill="none" stroke="#111" stroke-linejoin="round" stroke-linecap="round" stroke-width="1.9"/>
<circle cx="747.2" cy="317.2" r="16.8" fill="none" stroke="#111" stroke-linejoin="round" stroke-linecap="round" stroke-width="2.6"/>
<circle cx="747.2" cy="317.2" r="9.8" fill="#bbb" stroke="#111" stroke-linejoin="round" stroke-linecap="round" stroke-width="1.6"/>
<path d="M737.9000000000001 318.2 A9.5 9.5 0 0 1 749.2 307.9 A11 11 0 0 0 743.2 319.2 A8 8 0 0 0 737.9000000000001 318.2Z" fill="#111"/>
<path d="M758.7 317.2 L762.2 317.2" stroke="#333" stroke-width="1.1"/>
<path d="M755.3 325.3 L757.8 327.8" stroke="#333" stroke-width="1.1"/>
<path d="M747.2 328.7 L747.2 332.2" stroke="#333" stroke-width="1.1"/>
<path d="M739.1 325.3 L736.6 327.8" stroke="#333" stroke-width="1.1"/>
<path d="M735.7 317.2 L732.2 317.2" stroke="#333" stroke-width="1.1"/>
<path d="M739.1 309.1 L736.6 306.6" stroke="#333" stroke-width="1.1"/>
<path d="M747.2 305.7 L747.2 302.2" stroke="#333" stroke-width="1.1"/>
<path d="M755.3 309.1 L757.8 306.6" stroke="#333" stroke-width="1.1"/>
<path d="M771.2 317.2 L775.2 317.2" stroke="#444" stroke-width="0.9"/>
<path d="M747.2 341.2 L747.2 345.2" stroke="#444" stroke-width="0.9"/>
<path d="M723.2 317.2 L719.2 317.2" stroke="#444" stroke-width="0.9"/>
<path d="M747.2 293.2 L747.2 289.2" stroke="#444" stroke-width="0.9"/>
<path d="M759.2 284.2 A35 35 0 0 1 781.2 325.2" fill="none" stroke="#555" stroke-width="3"/>
<path d="M703.5 265.2 l2.7 1.6 M707.1 266.9 l3.3 -0.6 M710.6 268.3 l2.8 1.6 M704.5 270.8 l3.3 1.9 M707.7 272.1 l3.9 -0.7 M711.4 273.2 l2.2 1.3 M714.8 274.4 l3.2 -0.6 M701.2 275.6 l2.5 1.5 M704.5 277.0 l3.0 -0.5 M707.8 277.9 l2.7 1.6 M703.5 281.0 l2.3 1.3 M706.5 281.7 l2.9 -0.5 M710.2 283.6 l2.6 1.5 M713.2 284.4 l3.3 -0.6" stroke="#666" stroke-width="0.6" fill="none"/>
<path d="M776.5 258.6 l1.9 1.1 M779.9 259.5 l3.4 -0.6 M783.4 260.9 l2.9 1.7 M777.4 263.2 l2.7 1.6 M780.5 264.6 l3.1 -0.5 M784.0 266.0 l2.5 1.5 M787.5 267.1 l2.5 -0.4 M774.9 268.6 l3.2 1.9 M778.2 270.2 l2.6 -0.5 M781.7 271.4 l3.3 1.9 M775.8 274.0 l2.2 1.3 M779.8 275.3 l2.4 -0.4 M782.6 276.5 l2.3 1.3 M785.9 277.9 l2.9 -0.5" stroke="#555" stroke-width="0.6" fill="none"/>
<path d="M677.3 292.3 l2.0 2.8 M680.6 293.5 l3.3 0.9 M684.7 295.4 l1.4 2.0 M679.1 297.5 l2.0 2.8 M682.0 298.5 l2.3 0.6 M685.3 300.1 l1.8 2.6 M689.1 301.1 l2.4 0.7 M675.4 303.0 l2.2 3.2 M678.2 303.5 l3.8 1.0 M681.9 305.4 l1.6 2.3 M677.2 307.6 l1.9 2.7 M680.2 309.2 l3.6 1.0 M683.7 310.3 l2.0 2.9 M687.3 311.4 l2.4 0.6" stroke="#777" stroke-width="0.6" fill="none"/>
<path d="M676.0 289.5 L674.9 295.6 M676.7 297.1 L674.2 311.5 M679.3 293.9 L676.7 308.9 M681.5 292.8 L679.7 303.0 M683.6 292.6 L681.6 303.9" stroke="#999" stroke-width="0.55" fill="none"/>
<path d="M797 300 L788.8 352.7 H818 Q831 349 832.3 338 L834.3 322 L829 296 L822 300 Z" fill="#fff" stroke="none"/>
<path d="M796.3 310 L788.8 352.7 H818 Q831 349 832.3 338 L834.3 322" fill="none" stroke="#111" stroke-linejoin="round" stroke-linecap="round" stroke-width="1.8"/>
<path d="M790 348.8 H816 Q828 346 829.5 336" fill="none" stroke="#111" stroke-linejoin="round" stroke-linecap="round" stroke-width="0.9"/>
<path d="M800 341 Q815 344 826 330 L829.5 336 Q827 346 816 348.5 H798Z" fill="url(#shade)"/>
<path d="M802.1 331.2 l3.5 1.6 M805.5 332.9 l3.5 -0.9 M808.6 334.3 l3.4 1.6 M803.4 335.0 l2.7 1.2 M806.7 335.8 l2.7 -0.7 M809.9 337.0 l2.6 1.2 M813.5 338.8 l2.5 -0.7" stroke="#666" stroke-width="0.6" fill="none"/>
<path d="M804.6 312 V320 A8.6 8.6 0 0 0 821.8 320 V300" fill="#fff" stroke="#111" stroke-linejoin="round" stroke-linecap="round" stroke-width="1.4"/>
<circle cx="809.4" cy="302.3" r="12.6" fill="#fff" stroke="#111" stroke-linejoin="round" stroke-linecap="round" stroke-width="1.6"/>
<path d="M797.3 302.8 H821.6 M797.8 305.3 H821.2" stroke="#111" stroke-linejoin="round" stroke-linecap="round" stroke-width="1.4" fill="none"/>
<path d="M799 309 A12.6 12.6 0 0 0 820 309 Q810 313 799 309Z" fill="url(#shade)"/>
<path d="M801 311.5 A12.6 12.6 0 0 0 818 311.5" fill="none" stroke="#111" stroke-linejoin="round" stroke-linecap="round" stroke-width="2"/>
<path d="M838.0 336.0 C837.3 338.3 836.2 346.0 834.0 350.0 C831.8 354.0 828.7 357.3 825.0 360.0 C821.3 362.7 814.2 365.0 812.0 366.0" fill="none" stroke="#999" stroke-width="2.2" stroke-dasharray="0.8 0.9"/>
<path d="M797 353 V358 Q797 361.5 801 361.5 H806 Q810 361.5 810 358 V353" fill="#fff" stroke="#111" stroke-linejoin="round" stroke-linecap="round" stroke-width="1.55"/>
<ellipse cx="803.6" cy="365.2" rx="4.6" ry="2" fill="#fff" stroke="#111" stroke-linejoin="round" stroke-linecap="round" stroke-width="1.3"/>
<path d="M688.0 329.5 C685.3 329.8 677.0 329.2 672.0 331.0 C667.0 332.8 661.4 336.0 658.0 340.0 C654.6 344.0 652.1 349.2 651.5 355.0 C650.9 360.8 652.5 369.6 654.3 374.6 C656.0 379.6 658.9 381.7 662.0 385.0 C665.1 388.3 668.8 391.6 672.8 394.4 C676.8 397.2 681.6 399.8 686.0 402.0 C690.4 404.2 694.7 406.2 699.0 407.6 C703.3 409.0 707.6 409.6 712.0 410.2 C716.4 410.8 717.5 411.2 725.5 411.5 C733.5 411.8 754.2 412.1 760.0 412.2" fill="none" stroke="#111" stroke-linejoin="round" stroke-linecap="round" stroke-width="2.6"/>
<path d="M688.0 329.5 C685.3 329.8 677.0 329.2 672.0 331.0 C667.0 332.8 661.4 336.0 658.0 340.0 C654.6 344.0 652.1 349.2 651.5 355.0 C650.9 360.8 652.5 369.6 654.3 374.6 C656.0 379.6 658.9 381.7 662.0 385.0 C665.1 388.3 668.8 391.6 672.8 394.4 C676.8 397.2 681.6 399.8 686.0 402.0 C690.4 404.2 694.7 406.2 699.0 407.6 C703.3 409.0 707.6 409.6 712.0 410.2 C716.4 410.8 717.5 411.2 725.5 411.5 C733.5 411.8 754.2 412.1 760.0 412.2" fill="none" stroke="#fff" stroke-width="0.9"/>
<path d="M658 360 Q660 378 676 391 L679 388 Q665 377 663 360Z" fill="url(#shadeL)"/>
<path d="M693.9 345.6 C695.2 346.5 698.9 349.7 702.0 351.0 C705.1 352.3 707.6 352.6 712.3 353.5 C717.0 354.4 723.4 355.4 730.0 356.5 C736.6 357.6 743.7 358.2 752.0 360.0 C760.3 361.8 768.9 365.3 779.6 367.0 C790.4 368.7 810.4 369.7 816.5 370.2 L816.5 373 L760 371.3 L674 367.3 Q660 362 661 348 Q664 331 681 329.5 Q690 331 693.9 345.6Z" fill="#fff" stroke="#111" stroke-linejoin="round" stroke-linecap="round" stroke-width="1.55"/>
<path d="M674 367.6 L760 371.6 L816.5 373.2" fill="none" stroke="#111" stroke-linejoin="round" stroke-linecap="round" stroke-width="2.4"/>
<path d="M676 370 L816 375 V378 L690 374Z" fill="url(#shade)"/>
<circle cx="681" cy="349" r="19.6" fill="none" stroke="#111" stroke-linejoin="round" stroke-linecap="round" stroke-width="1.3"/>
<circle cx="681" cy="349" r="14.6" fill="#fff" stroke="#111" stroke-linejoin="round" stroke-linecap="round" stroke-width="1.5"/>
<circle cx="681" cy="349" r="11.8" fill="none" stroke="#333" stroke-width="1.6" stroke-dasharray="0.9 1.1"/>
<circle cx="681" cy="349" r="8.2" fill="#fff" stroke="#111" stroke-linejoin="round" stroke-linecap="round" stroke-width="1.5"/>
<path d="M677 345 L685 353 M685 345 L677 353" stroke="#666" stroke-width="0.8" stroke-dasharray="1.2 1"/>
<rect x="697.2" y="372.6" width="3.2" height="6.6" fill="#fff" stroke="#111" stroke-linejoin="round" stroke-linecap="round" stroke-width="0.9"/>
<rect x="729" y="372.6" width="9" height="2.4" fill="#fff" stroke="#111" stroke-linejoin="round" stroke-linecap="round" stroke-width="0.8"/>
<path d="M702.9 357.3 l3.4 -0.0 M706.3 358.7 l2.2 -1.9 M710.0 360.1 l3.5 -0.0 M704.6 361.3 l3.3 -0.0 M707.8 362.8 l2.2 -1.9 M710.7 364.0 l2.9 -0.0 M714.1 365.4 l2.9 -2.5" stroke="#444" stroke-width="0.7" fill="none"/>
<path d="M738.2 364.8 l3.2 -0.0 M742.0 365.8 l2.8 -2.4 M744.7 367.1 l3.6 -0.0 M739.5 368.4 l3.0 -0.0 M742.3 369.9 l2.5 -2.1 M745.6 371.6 l3.0 -0.0 M749.4 372.6 l2.2 -1.8" stroke="#444" stroke-width="0.7" fill="none"/>
<path d="M712.5 385.0 L711.3 393.7 M714.5 388.9 L713.7 394.9 M716.8 391.2 L715.9 397.3 M720.6 382.7 L719.8 388.4 M723.1 383.4 L722.4 388.5 M724.4 392.8 L723.4 399.5 M726.7 394.9 L725.4 404.2 M730.7 384.6 L729.2 395.6" stroke="#555" stroke-width="0.7" fill="none"/>
<path d="M778.4 399.3 L777.9 404.9 M780.7 398.9 L779.9 407.7 M783.5 392.3 L782.3 406.0 M786.1 388.7 L785.3 398.4 M787.4 400.0 L786.4 411.4 M790.3 392.7 L789.1 406.4 M792.0 398.4 L791.1 408.8 M795.3 387.5 L794.3 398.0 M797.0 393.1 L796.4 399.9" stroke="#555" stroke-width="0.7" fill="none"/>
<path d="M842.1 375.2 L840.8 380.0 M844.4 376.4 L843.2 380.8 M845.7 381.3 L844.5 385.7 M848.9 378.8 L847.6 383.8 M851.0 380.7 L849.4 386.5" stroke="#555" stroke-width="0.7" fill="none"/>
<path d="M742 351 L752 349.5 L756 361 L745 363.5 Z" fill="#fff" stroke="#111" stroke-linejoin="round" stroke-linecap="round" stroke-width="1.55"/>
<circle cx="748.3" cy="356.5" r="1.4" fill="#111"/>
<path d="M718.0 344.0 C719.3 345.3 722.7 350.2 726.0 352.0 C729.3 353.8 734.8 354.2 738.0 355.0 C741.2 355.8 743.8 356.7 745.0 357.0" fill="none" stroke="#111" stroke-linejoin="round" stroke-linecap="round" stroke-width="2.2"/>
<path d="M756.0 358.0 C758.0 357.7 764.0 357.7 768.0 356.0 C772.0 354.3 777.0 350.7 780.0 348.0 C783.0 345.3 785.0 341.3 786.0 340.0" fill="none" stroke="#111" stroke-linejoin="round" stroke-linecap="round" stroke-width="2.2"/>
<rect x="727.5" y="405" width="23.8" height="6" fill="#fff" stroke="#111" stroke-linejoin="round" stroke-linecap="round" stroke-width="1.4"/>
<rect x="744" y="405.6" width="7" height="5" fill="#111"/>
<path d="M724 411.8 L728 408.5 M755 411.8 L751.5 408.5" stroke="#111" stroke-linejoin="round" stroke-linecap="round" stroke-width="1"/>
<rect x="695.9" y="412.4" width="151.6" height="6.4" fill="url(#dR)" stroke="#111" stroke-linejoin="round" stroke-linecap="round" stroke-width="1"/>
<rect x="712" y="416.2" width="55" height="3" fill="#fff" stroke="#111" stroke-width="0.8"/>
<path d="M695.9 419.8 H856 Q859 419.8 859 416 V406 M695.9 423.4 H857 Q862.6 423 862.6 417 V406" fill="none" stroke="#111" stroke-linejoin="round" stroke-linecap="round" stroke-width="1.4"/>
<rect x="695.9" y="423.8" width="150" height="3.6" fill="url(#dR)" stroke="#111" stroke-linejoin="round" stroke-linecap="round" stroke-width="0.8"/>
<path d="M660 426 H696" fill="none" stroke="#111" stroke-linejoin="round" stroke-linecap="round" stroke-width="1.4"/>
<path d="M866 370 H877.7 V385 H866Z" fill="url(#hL3)" stroke="#111" stroke-width="0.9"/>
<path d="M852 386 L856 377 L861.4 372 H866 V418 H862 V404 L856 408 L852 403Z" fill="#fff" stroke="#111" stroke-linejoin="round" stroke-linecap="round" stroke-width="1.4"/>
<path d="M853 386 L857 378 L862 373 V388Z M853 403 L857 407 L862 404 V402Z" fill="url(#shade)"/>
<rect x="842.8" y="388.4" width="35" height="14.5" rx="3" fill="#fff" stroke="#111" stroke-linejoin="round" stroke-linecap="round" stroke-width="1.5"/>
<path d="M846 389 V402.4" stroke="#111" stroke-width="1.5"/>
<path d="M849 389 V402.4" stroke="#111" stroke-width="1.5"/>
<path d="M852 389 V402.4" stroke="#111" stroke-width="1.5"/>
<path d="M855 389 V402.4" stroke="#111" stroke-width="1.5"/>
<path d="M858 389 V402.4" stroke="#111" stroke-width="1.5"/>
<path d="M861 389 V402.4" stroke="#111" stroke-width="1.5"/>
<path d="M864 389 V402.4" stroke="#111" stroke-width="1.5"/>
<path d="M867 389 V402.4" stroke="#111" stroke-width="1.5"/>
<path d="M870 389 V402.4" stroke="#111" stroke-width="1.5"/>
<path d="M873 389 V402.4" stroke="#111" stroke-width="1.5"/>
<path d="M876 389 V402.4" stroke="#111" stroke-width="1.5"/>
<rect x="843.5" y="398.5" width="34" height="4.2" fill="#111"/>
<rect x="877.7" y="374.5" width="3.4" height="55" fill="url(#dR)" stroke="#111" stroke-linejoin="round" stroke-linecap="round" stroke-width="0.9"/>
<path d="M883 379.8 V420 Q883 428 879 432 M887 379.8 V420 Q887 430 882 435" fill="none" stroke="#111" stroke-linejoin="round" stroke-linecap="round" stroke-width="1.4"/>
<rect x="887.6" y="383" width="2.8" height="22" fill="url(#dR)" stroke="#111" stroke-linejoin="round" stroke-linecap="round" stroke-width="0.8"/>
<path d="M891 380.4 H900.8 V393 H895.5 V399 H900.8 V410.8 H891 Z" fill="#fff" stroke="#111" stroke-linejoin="round" stroke-linecap="round" stroke-width="1.6"/>
<path d="M891.5 403 H900.5 V410.5 H891.5Z" fill="url(#dR)"/>
<path d="M902 384 Q914 388 918 378 L909 412 Q903 416 893 414 L901 411Z" fill="url(#shade)"/>
<path d="M888 408 L893 414 Q898 430 886 444 L878 440 Q890 428 888 408Z" fill="url(#shadeL)"/>
<path d="M618.3 434 Q640 436.5 652.6 437.5 L654 447 H663 Q664 439.8 671 439.4 H779 Q786 440 787.5 450 H807 V452 H618.3 Z" fill="url(#shade)"/>
<path d="M618.3 426 Q620 433 627 434.5 L652.6 437.5 L654 447 H663 Q664 439.8 671 439.4 H779 Q786 440 787.5 450" fill="none" stroke="#111" stroke-linejoin="round" stroke-linecap="round" stroke-width="2"/>
<path d="M671 439.4 H779 L781 442.5 H669Z" fill="#111"/>
<path d="M796.6 452 V444 Q797 440.5 801 440.5 H813.7" fill="none" stroke="#111" stroke-linejoin="round" stroke-linecap="round" stroke-width="2.4"/>
<path d="M797 441 H814 V452 H797Z" fill="url(#shade)"/>
<rect x="814.4" y="441" width="49.5" height="2.9" fill="url(#dR)" stroke="#111" stroke-linejoin="round" stroke-linecap="round" stroke-width="0.8"/>
<path d="M840.0 428.0 C842.0 428.5 848.0 429.4 852.0 431.0 C856.0 432.6 860.6 436.3 863.9 437.8 C867.2 439.3 869.0 440.3 872.0 440.0 C875.0 439.7 880.3 436.7 882.0 436.0" fill="none" stroke="#111" stroke-linejoin="round" stroke-linecap="round" stroke-width="1.4"/>
<path d="M866 440 L872 452 M870 438 L878 450 M875 436 L880 444" stroke="#111" stroke-linejoin="round" stroke-linecap="round" stroke-width="1.8"/>
<path d="M620 452.5 H803.5 Q807.5 452.5 807.5 457 V524 Q807.5 528.6 803.5 528.6 H620 Q616 528.6 616 524 V457 Q616 452.5 620 452.5Z" fill="#fff" stroke="#111" stroke-linejoin="round" stroke-linecap="round" stroke-width="1.6"/>
<path d="M616.6 511.3 H807 V524 Q807 528 803 528 H620 Q616.6 528 616.6 524Z" fill="#111"/>
<path d="M622 455.5 H805" stroke="#333" stroke-width="0.8"/>
<path d="M630 459 H760" stroke="#333" stroke-width="0.6"/>
<path d="M625 464 H700" stroke="#333" stroke-width="0.6"/>
<path d="M690 468.5 H800" stroke="#333" stroke-width="0.6"/>
<path d="M646 475.5 H790" stroke="#333" stroke-width="0.9"/>
<path d="M700 483 H780" stroke="#333" stroke-width="0.5"/>
<path d="M636 491 H690" stroke="#333" stroke-width="0.8"/>
<path d="M700 492.5 H785" stroke="#333" stroke-width="0.6"/>
<path d="M640 497 H800" stroke="#333" stroke-width="0.5"/>
<path d="M620 499.5 H805" stroke="#333" stroke-width="0.6"/>
<path d="M620 501.6 H805" stroke="#333" stroke-width="0.7"/>
<path d="M618 503.5 H806" stroke="#333" stroke-width="0.8"/>
<path d="M617 505.3 H807" stroke="#333" stroke-width="0.9"/>
<path d="M617 507 H807" stroke="#333" stroke-width="1.0"/>
<path d="M617 508.6 H807" stroke="#333" stroke-width="1.1"/>
<path d="M617 510.1 H807" stroke="#333" stroke-width="1.2"/>
<path d="M612.5 484 V510 H616" fill="none" stroke="#111" stroke-linejoin="round" stroke-linecap="round" stroke-width="1.4"/>
<path d="M614.4 367.5 H586 Q580 367.8 577.5 373 L576 377" fill="none" stroke="#111" stroke-linejoin="round" stroke-linecap="round" stroke-width="1.55"/>
<path d="M613.6 367.5 V452" fill="none" stroke="#111" stroke-linejoin="round" stroke-linecap="round" stroke-width="1.4"/>
<circle cx="597.9" cy="390.6" r="15" fill="#fff" stroke="#111" stroke-linejoin="round" stroke-linecap="round" stroke-width="1.6"/>
<path d="M585.5 399 A15 15 0 0 0 612.7 393 Q609 399 600 399.5 Q591 400 585.5 399Z" fill="#222"/>
<path d="M588.4 400.6 L606 378.8 M591 402.8 L608.6 381" stroke="#111" stroke-linejoin="round" stroke-linecap="round" stroke-width="1.55"/>
<path d="M589 401 L606.6 379.3 L608.2 380.6 L590.6 402.4Z" fill="#fff"/>
<path d="M580.0 372.7 L578.6 378.1 M581.3 375.8 L580.0 380.3 M584.4 371.9 L583.7 374.2" stroke="#666" stroke-width="0.7" fill="none"/>
<path d="M595.4 426.3 L594.3 439.5 M597.8 421.8 L597.0 430.8 M600.4 415.7 L599.3 428.0 M601.9 421.1 L600.9 432.4 M603.8 422.4 L602.7 435.3 M606.5 414.8 L605.8 422.8 M607.2 428.8 L606.0 443.4 M609.4 427.3 L608.9 433.1" stroke="#999" stroke-width="0.7" fill="none"/>
<path d="M815 445 H872.5 V490 A22.5 22.5 0 0 1 850 516 H815 Z" fill="#fff" stroke="#111" stroke-linejoin="round" stroke-linecap="round" stroke-width="1.6"/>
<path d="M872.5 470 V490 A22.5 22.5 0 0 1 850 516" fill="none" stroke="#111" stroke-linejoin="round" stroke-linecap="round" stroke-width="2.6"/>
<path d="M819 452 Q820 446 830 446 H836 V458 H826 Q821 458 820 465Z" fill="#444"/>
<path d="M818.5 470 V448" fill="none" stroke="#111" stroke-linejoin="round" stroke-linecap="round" stroke-width="2"/>
<path d="M818.5 472 V510 H829 M829 476 V510 M818.5 476 H829" fill="none" stroke="#222" stroke-width="1" stroke-dasharray="2.5 1.5"/>
<circle cx="846.2" cy="489.2" r="16" fill="#fff" stroke="#111" stroke-linejoin="round" stroke-linecap="round" stroke-width="1.8"/>
<path d="M836.5 501.5 L855.5 476.5 M839 503.6 L858 478.6" stroke="#111" stroke-linejoin="round" stroke-linecap="round" stroke-width="1.4"/>
<path d="M833 498 A16 16 0 0 0 860 497 Q846 502 833 498Z" fill="#555"/>
<path d="M823.7 457.7 L822.2 461.9 M824.4 461.6 L822.2 467.6 M827.3 459.4 L825.3 465.0 M829.3 459.8 L828.1 463.1 M829.2 466.0 L827.1 471.6" stroke="#555" stroke-width="0.7" fill="none"/>
<path d="M851.8 469.8 L853.9 477.9 M853.1 467.0 L854.9 473.6 M854.5 464.4 L857.5 475.7 M858.4 471.5 L859.9 477.0 M857.4 459.9 L860.6 471.7 M861.4 467.1 L864.5 478.6 M861.6 460.3 L863.9 468.8 M863.8 460.4 L866.9 472.3" stroke="#555" stroke-width="0.7" fill="none"/>
<path d="M836 457 H848 M852 455 H866" stroke="#222" stroke-width="1.6" stroke-dasharray="1 1"/>
<path d="M808 486 Q811 486 811 490 V500 Q811 504 808 504" fill="none" stroke="#111" stroke-linejoin="round" stroke-linecap="round" stroke-width="1.4"/>
<path d="M809.0 493.5 L809.0 501.2 M810.3 500.5 L810.3 506.0 M811.7 495.5 L811.7 503.7 M813.0 499.7 L813.0 505.9" stroke="#555" stroke-width="0.6" fill="none"/>
<path d="M524.4 584 Q525 581.5 529 581.2 L577 581 Q581.5 581.5 582.5 587.5 L600 648 L596.7 729 L577.6 792 Q577 795 573 795.3 L525 795 Q520.5 794.5 519.5 788.5 L502 728 L505.3 647 Z" fill="#fff" stroke="#111" stroke-linejoin="round" stroke-linecap="round" stroke-width="1.6"/>
<path d="M521.8 607.2 L520.0 619.9 M523.1 610.4 L521.0 625.1 M524.9 609.7 L522.9 624.2 M528.4 597.5 L527.0 607.6 M527.9 613.7 L526.3 625.5 M529.8 613.2 L528.8 619.8 M532.5 605.9 L531.4 613.8 M534.1 607.5 L532.5 618.6 M537.1 598.5 L536.1 606.1" stroke="#666" stroke-width="0.7" fill="none"/>
<path d="M539.3 636.1 L538.3 647.9 M540.7 643.2 L540.2 649.0 M542.6 643.8 L542.2 649.4 M544.9 641.4 L544.4 646.9 M547.6 632.8 L546.6 644.3 M549.4 635.9 L548.8 642.1 M550.4 647.2 L549.4 658.7 M553.2 637.4 L552.2 649.7 M554.9 641.2 L554.1 651.1 M557.3 636.5 L556.3 648.6" stroke="#666" stroke-width="0.7" fill="none"/>
<path d="M562.6 772.1 L559.7 785.5 M563.8 775.7 L562.2 783.2 M567.6 767.8 L566.2 774.1 M570.2 764.8 L569.1 770.3 M571.7 767.7 L569.5 777.9 M574.6 763.4 L572.3 774.3 M575.5 769.1 L573.9 776.7 M575.8 777.0 L573.9 786.1 M579.5 769.6 L577.5 778.7 M580.1 776.1 L579.0 781.5" stroke="#555" stroke-width="0.7" fill="none"/>
<path d="M536.8 740.3 L535.9 744.4 M539.4 737.9 L537.3 747.8 M543.3 729.2 L541.2 738.6 M544.3 733.9 L542.6 741.9" stroke="#777" stroke-width="0.6" fill="none"/>
<path d="M564.0 605.8 L563.4 608.9 M565.7 607.8 L564.0 615.8 M567.6 608.4 L566.1 615.3 M568.1 615.7 L566.4 623.6" stroke="#777" stroke-width="0.6" fill="none"/>
<path d="M506 650 L512 636 L515 660 L510 668Z" fill="url(#shadeL)"/>
<path d="M523 721 L535.5 770 L532 776 L519.5 724Z" fill="url(#shadeL)"/>
<path d="M579 655 L566.5 606 L570 600 L582.5 652Z" fill="url(#shadeL)"/>
<g><path d="M458.4 704.5 C459.7 703.9 463.4 702.2 466.0 701.0 C468.6 699.8 471.7 698.2 474.0 697.0 C476.3 695.8 478.3 694.7 480.0 693.5 C481.7 692.3 483.3 690.6 484.0 690.0 L498 736 498.0 736.0 C497.0 735.3 493.9 733.0 492.0 732.0 C490.1 731.0 489.0 730.5 486.7 730.2 C484.4 730.0 481.4 729.8 478.0 730.5 C474.6 731.2 468.2 733.6 466.3 734.2 L451.8 740.8 L442.5 709 Z" fill="#fff" stroke="#111" stroke-linejoin="round" stroke-linecap="round" stroke-width="1.5"/>
<path d="M442.5 709 L446.3 708 L455.6 739.7 L451.8 740.8Z" fill="url(#dR)" stroke="#111" stroke-width="1.3"/>
<path d="M452.2 706.4 L458.4 704.5 L467 733.8 L461.5 735.6Z" fill="#111"/></g>
<g transform="rotate(180 551 688)"><path d="M458.4 704.5 C459.7 703.9 463.4 702.2 466.0 701.0 C468.6 699.8 471.7 698.2 474.0 697.0 C476.3 695.8 478.3 694.7 480.0 693.5 C481.7 692.3 483.3 690.6 484.0 690.0 L498 736 498.0 736.0 C497.0 735.3 493.9 733.0 492.0 732.0 C490.1 731.0 489.0 730.5 486.7 730.2 C484.4 730.0 481.4 729.8 478.0 730.5 C474.6 731.2 468.2 733.6 466.3 734.2 L451.8 740.8 L442.5 709 Z" fill="#fff" stroke="#111" stroke-linejoin="round" stroke-linecap="round" stroke-width="1.5"/>
<path d="M442.5 709 L446.3 708 L455.6 739.7 L451.8 740.8Z" fill="url(#dR)" stroke="#111" stroke-width="1.3"/>
<path d="M452.2 706.4 L458.4 704.5 L467 733.8 L461.5 735.6Z" fill="#111"/></g>
<path d="M460.6 720.5 L459.2 726.2 M465.2 707.6 L462.1 719.7 M464.8 714.7 L462.9 722.3 M467.1 710.9 L464.8 719.9 M466.3 719.4 L464.4 727.4 M469.0 714.1 L467.8 718.9 M468.6 721.3 L467.5 726.0 M471.4 715.7 L468.6 726.7 M473.9 711.0 L471.4 721.1 M472.4 722.8 L470.0 732.1 M474.2 720.8 L472.9 726.0 M476.8 716.2 L475.4 721.8 M476.6 722.3 L475.0 729.0 M479.3 717.1 L476.2 729.3 M479.2 723.0 L476.2 735.1 M481.9 717.8 L479.8 726.0" stroke="#444" stroke-width="0.7" fill="none"/>
<path d="M481.1 715.3 L478.3 726.1 M484.6 707.5 L482.1 717.6 M486.9 705.2 L484.4 715.0 M484.5 721.3 L480.5 737.2 M487.7 714.9 L485.0 726.0 M490.6 710.0 L488.9 716.7" stroke="#666" stroke-width="0.6" fill="none"/>
<path d="M609 648 L622 649.5 L644 643 L652 669.5 L633 676.5 L618 683 Z" fill="url(#shade)"/>
<path d="M619.1 652.3 L616.7 661.6 M618.4 660.0 L616.8 666.4 M619.9 659.3 L617.6 668.6 M621.4 658.4 L619.3 667.0 M622.5 659.5 L620.9 666.0 M623.9 659.2 L622.4 665.0 M625.8 656.8 L623.4 666.0 M626.3 659.6 L624.9 665.5 M626.8 663.1 L624.7 671.5 M629.1 658.8 L628.1 662.8 M630.5 658.7 L629.1 664.4 M631.3 660.6 L629.5 667.7 M632.1 662.7 L630.0 671.1 M633.4 662.8 L631.8 669.1 M635.1 661.2 L632.8 670.2 M635.7 663.8 L634.1 670.1 M636.9 664.2 L634.4 674.2 M638.6 662.6 L635.9 673.3 M639.0 666.3 L637.1 673.8 M641.6 661.3 L640.3 666.3" stroke="#222" stroke-width="0.8" fill="none"/>
<path d="M608 647 L614 648 L622 683 L617 684.5Z" fill="#333"/>
<path d="M522 660 Q551 647.5 577.2 662 Q591.5 689 582 717.2 Q553 729.5 526.7 716 Q510.5 688 522 660 Z" fill="#fff" stroke="#111" stroke-linejoin="round" stroke-linecap="round" stroke-width="1.7"/>
<path d="M525 662.8 Q551 651.5 574.6 664.6 Q587.5 689 579 714.5 Q553 725.5 529.4 713.4 Q514.5 688 525 662.8 Z" fill="#8c8c8c" stroke="#111" stroke-linejoin="round" stroke-linecap="round" stroke-width="1.3"/>
<path d="M526 664 L538 664.5 L527.5 677Z M573.6 665.6 L562 664.6 L576.5 678Z M578 713.5 L566 713 L577.5 700Z M530.4 712.4 L542 712.5 L526.5 699Z" fill="#222"/>
<path d="M528 664 Q551 653.5 572 665.5 L551 660Z" fill="#999"/>
<circle cx="551" cy="688" r="26.7" fill="#fff" stroke="#111" stroke-linejoin="round" stroke-linecap="round" stroke-width="2"/>
<circle cx="551" cy="688" r="21.4" fill="none" stroke="#111" stroke-linejoin="round" stroke-linecap="round" stroke-width="1.6"/>
<circle cx="551" cy="688" r="15.4" fill="none" stroke="#111" stroke-linejoin="round" stroke-linecap="round" stroke-width="2.5"/>
<circle cx="551" cy="688" r="10" fill="#b5b5b5" stroke="#111" stroke-linejoin="round" stroke-linecap="round" stroke-width="1.6"/>
<path d="M541.6 689.5 A9.6 9.6 0 0 1 552 678.6 A10 10 0 0 0 548 689 A6 6 0 0 0 541.6 689.5Z" fill="#111"/>
<path d="M567.4 692.4 L570.3 693.2" stroke="#444" stroke-width="1.5"/>
<path d="M546.6 704.4 L545.8 707.3" stroke="#444" stroke-width="1.5"/>
<path d="M534.6 683.6 L531.7 682.8" stroke="#444" stroke-width="1.5"/>
<path d="M555.4 671.6 L556.2 668.7" stroke="#444" stroke-width="1.5"/>
<path d="M559.5 702.7 L561.0 705.3" stroke="#444" stroke-width="1.5"/>
<path d="M536.3 696.5 L533.7 698.0" stroke="#444" stroke-width="1.5"/>
<path d="M542.5 673.3 L541.0 670.7" stroke="#444" stroke-width="1.5"/>
<path d="M565.7 679.5 L568.3 678.0" stroke="#444" stroke-width="1.5"/>
<path d="M525.5 696 A26.7 26.7 0 0 0 573 703 A24.5 24.5 0 0 1 525.5 696Z" fill="#222"/>
<g><path d="M475.8 654.6 L481.2 653.2 L505.8 749.4 L500.6 750.8 Z" fill="#fff" stroke="#111" stroke-linejoin="round" stroke-linecap="round" stroke-width="1.5"/>
<path d="M481 636.6 L495.4 633.3 L529.5 764 L516 762.5 L510.8 756 Z" fill="#fff" stroke="#111" stroke-linejoin="round" stroke-linecap="round" stroke-width="1.8"/>
<path d="M487.8 635.2 L518.5 762.6 M493 654 L519 760" fill="none" stroke="#111" stroke-linejoin="round" stroke-linecap="round" stroke-width="1"/>
<path d="M511 756.5 L516 762.5 L529.5 764 L527.5 757 L517.5 758.5Z" fill="url(#dR)"/>
<path d="M486 648 l3 -0.8" stroke="#333" stroke-width="0.8"/>
<path d="M489.5 662 l3 -0.8" stroke="#333" stroke-width="0.8"/>
<path d="M497 690 l3 -0.8" stroke="#333" stroke-width="0.8"/>
<path d="M503 716 l3 -0.8" stroke="#333" stroke-width="0.8"/>
<path d="M508 738 l3 -0.8" stroke="#333" stroke-width="0.8"/>
<path d="M499 676 l3 -0.8" stroke="#333" stroke-width="0.8"/>
<path d="M514 740 l3 -0.8" stroke="#333" stroke-width="0.8"/>
<path d="M490.8 615.5 L533 778" fill="none" stroke="#111" stroke-linejoin="round" stroke-linecap="round" stroke-width="2.8"/>
<path d="M491 616 L533 778" fill="none" stroke="#fff" stroke-width="0.9"/>
<circle cx="503" cy="604.3" r="15.6" fill="#fff" stroke="#111" stroke-linejoin="round" stroke-linecap="round" stroke-width="1.6"/>
<circle cx="503" cy="604.3" r="9.2" fill="#fff" stroke="#111" stroke-linejoin="round" stroke-linecap="round" stroke-width="2"/>
<path d="M493.3 689.3 L514.4 684.7 L520.4 709.7 L500.6 714.4 Z" fill="#fff" stroke="#111" stroke-linejoin="round" stroke-linecap="round" stroke-width="1.6"/>
<path d="M501.8 694.4 l3.1 -1.8 M505.0 695.9 l1.2 -3.4 M509.0 696.6 l3.4 -2.0 M503.1 697.9 l3.3 -1.9 M506.5 699.4 l1.1 -3.0 M509.9 700.3 l2.2 -1.3 M513.1 701.4 l1.2 -3.2" stroke="#777" stroke-width="0.6" fill="none"/>
<path d="M517.7 688 L527 687.3 L529 703 L520.4 704.5 Z" fill="#fff" stroke="#111" stroke-linejoin="round" stroke-linecap="round" stroke-width="1.6"/>
<path d="M519.5 699.5 L528.5 698.3 L529 703 L520.4 704.5Z" fill="url(#dR)"/>
<path d="M512.3 659.6 L515.6 659.2 L517.6 682.5 L514.3 683 Z" fill="#fff" stroke="#111" stroke-linejoin="round" stroke-linecap="round" stroke-width="1.4"/>
<path d="M521.0 713.7 C521.5 715.2 522.8 719.9 524.0 723.0 C525.2 726.1 527.7 730.9 528.4 732.5 L531.6 731 531.6 731.0 C530.8 729.5 528.3 725.0 527.0 722.0 C525.7 719.0 524.5 714.5 524.0 713.0 Z" fill="#fff" stroke="#111" stroke-linejoin="round" stroke-linecap="round" stroke-width="1.4"/>
<circle cx="553.5" cy="595.7" r="15.2" fill="#fff" stroke="#111" stroke-linejoin="round" stroke-linecap="round" stroke-width="1.8"/>
<circle cx="553.5" cy="595.7" r="8.6" fill="none" stroke="#111" stroke-linejoin="round" stroke-linecap="round" stroke-width="0.9"/>
<circle cx="553.5" cy="595.7" r="6.3" fill="#ddd" stroke="#111" stroke-linejoin="round" stroke-linecap="round" stroke-width="1.7"/>
<circle cx="553.5" cy="595.7" r="3.4" fill="none" stroke="#111" stroke-linejoin="round" stroke-linecap="round" stroke-width="0.8"/>
<path d="M557 588.5 A8 8 0 0 1 560.5 599.5 A7 7 0 0 0 557 588.5Z" fill="#111" stroke="#111" stroke-width="1.2"/></g>
<g transform="rotate(180 551 688)"><path d="M475.8 654.6 L481.2 653.2 L505.8 749.4 L500.6 750.8 Z" fill="#fff" stroke="#111" stroke-linejoin="round" stroke-linecap="round" stroke-width="1.5"/>
<path d="M481 636.6 L495.4 633.3 L529.5 764 L516 762.5 L510.8 756 Z" fill="#fff" stroke="#111" stroke-linejoin="round" stroke-linecap="round" stroke-width="1.8"/>
<path d="M487.8 635.2 L518.5 762.6 M493 654 L519 760" fill="none" stroke="#111" stroke-linejoin="round" stroke-linecap="round" stroke-width="1"/>
<path d="M511 756.5 L516 762.5 L529.5 764 L527.5 757 L517.5 758.5Z" fill="url(#dR)"/>
<path d="M486 648 l3 -0.8" stroke="#333" stroke-width="0.8"/>
<path d="M489.5 662 l3 -0.8" stroke="#333" stroke-width="0.8"/>
<path d="M497 690 l3 -0.8" stroke="#333" stroke-width="0.8"/>
<path d="M503 716 l3 -0.8" stroke="#333" stroke-width="0.8"/>
<path d="M508 738 l3 -0.8" stroke="#333" stroke-width="0.8"/>
<path d="M499 676 l3 -0.8" stroke="#333" stroke-width="0.8"/>
<path d="M514 740 l3 -0.8" stroke="#333" stroke-width="0.8"/>
<path d="M490.8 615.5 L533 778" fill="none" stroke="#111" stroke-linejoin="round" stroke-linecap="round" stroke-width="2.8"/>
<path d="M491 616 L533 778" fill="none" stroke="#fff" stroke-width="0.9"/>
<circle cx="503" cy="604.3" r="15.6" fill="#fff" stroke="#111" stroke-linejoin="round" stroke-linecap="round" stroke-width="1.6"/>
<circle cx="503" cy="604.3" r="9.2" fill="#fff" stroke="#111" stroke-linejoin="round" stroke-linecap="round" stroke-width="2"/>
<path d="M493.3 689.3 L514.4 684.7 L520.4 709.7 L500.6 714.4 Z" fill="#fff" stroke="#111" stroke-linejoin="round" stroke-linecap="round" stroke-width="1.6"/>
<path d="M501.8 694.4 l3.1 -1.8 M505.0 695.9 l1.2 -3.4 M509.0 696.6 l3.4 -2.0 M503.1 697.9 l3.3 -1.9 M506.5 699.4 l1.1 -3.0 M509.9 700.3 l2.2 -1.3 M513.1 701.4 l1.2 -3.2" stroke="#777" stroke-width="0.6" fill="none"/>
<path d="M517.7 688 L527 687.3 L529 703 L520.4 704.5 Z" fill="#fff" stroke="#111" stroke-linejoin="round" stroke-linecap="round" stroke-width="1.6"/>
<path d="M519.5 699.5 L528.5 698.3 L529 703 L520.4 704.5Z" fill="url(#dR)"/>
<path d="M512.3 659.6 L515.6 659.2 L517.6 682.5 L514.3 683 Z" fill="#fff" stroke="#111" stroke-linejoin="round" stroke-linecap="round" stroke-width="1.4"/>
<path d="M521.0 713.7 C521.5 715.2 522.8 719.9 524.0 723.0 C525.2 726.1 527.7 730.9 528.4 732.5 L531.6 731 531.6 731.0 C530.8 729.5 528.3 725.0 527.0 722.0 C525.7 719.0 524.5 714.5 524.0 713.0 Z" fill="#fff" stroke="#111" stroke-linejoin="round" stroke-linecap="round" stroke-width="1.4"/>
<circle cx="553.5" cy="595.7" r="15.2" fill="#fff" stroke="#111" stroke-linejoin="round" stroke-linecap="round" stroke-width="1.8"/>
<circle cx="553.5" cy="595.7" r="8.6" fill="none" stroke="#111" stroke-linejoin="round" stroke-linecap="round" stroke-width="0.9"/>
<circle cx="553.5" cy="595.7" r="6.3" fill="#ddd" stroke="#111" stroke-linejoin="round" stroke-linecap="round" stroke-width="1.7"/>
<circle cx="553.5" cy="595.7" r="3.4" fill="none" stroke="#111" stroke-linejoin="round" stroke-linecap="round" stroke-width="0.8"/>
<path d="M557 588.5 A8 8 0 0 1 560.5 599.5 A7 7 0 0 0 557 588.5Z" fill="#111" stroke="#111" stroke-width="1.2"/></g>
<g stroke="#151515" stroke-width="1.05" fill="none" stroke-linejoin="round">
<path d="M139 232 L175 245 L204 245"/>
<path d="M138 273 L215 276 L216.5 289"/>
<path d="M137 314.5 L210 332.5 L218 332.2"/>
<path d="M136 355.5 L282.5 399"/>
<path d="M136 396 L186 406.5"/>
<path d="M135 437.5 L280 439"/>
<path d="M974 224.5 L826 244 L779 258.8"/>
<path d="M974 266 L834 279.8 L754 290.5"/>
<path d="M972 307 L910 291 L810 296"/>
<path d="M971 348 L917.5 336"/>
<path d="M971 389.5 L871 369.4 L822 367.8"/>
<path d="M970 431 L905 404"/>
<path d="M969 471.5 L869.6 432.4 L869.6 412"/>
<path d="M968 512.5 L843 430.5"/>
<path d="M966.6 555 L849 445.5"/>
<path d="M742 571 L650 384 L616 384"/>
<path d="M785 572.5 L774.5 534"/>
<path d="M826 573 L830.6 505"/>
<path d="M868 573 L851 496"/>
<path d="M909 574 L873.5 504"/>
<path d="M442 682 L493 665"/>
<path d="M657.5 687 L607.5 702"/>
<path d="M665 184 L747.5 354" stroke-width="1.4"/>
</g>
<g fill="#111">
<circle cx="139" cy="232" r="1.7"/>
<circle cx="138" cy="273" r="1.7"/>
<circle cx="137" cy="314.5" r="1.7"/>
<circle cx="136" cy="355.5" r="1.7"/>
<circle cx="136" cy="396" r="1.7"/>
<circle cx="135" cy="437.5" r="1.7"/>
<circle cx="974" cy="224.5" r="1.7"/>
<circle cx="974" cy="266" r="1.7"/>
<circle cx="972" cy="307" r="1.7"/>
<circle cx="971" cy="348" r="1.7"/>
<circle cx="971" cy="389.5" r="1.7"/>
<circle cx="970" cy="431" r="1.7"/>
<circle cx="969" cy="471.5" r="1.7"/>
<circle cx="968" cy="512.5" r="1.7"/>
<circle cx="966.6" cy="555" r="1.7"/>
<circle cx="742" cy="571" r="1.7"/>
<circle cx="785" cy="572.5" r="1.7"/>
<circle cx="826" cy="573" r="1.7"/>
<circle cx="868" cy="573" r="1.7"/>
<circle cx="909" cy="574" r="1.7"/>
<circle cx="442" cy="682" r="1.7"/>
<circle cx="657.5" cy="687" r="1.7"/>
<circle cx="665" cy="184" r="1.7"/>
<circle cx="204" cy="245" r="1.4"/>
<circle cx="779" cy="259" r="1.4"/>
<circle cx="754" cy="290.5" r="1.4"/>
<circle cx="810" cy="296" r="1.4"/>
<circle cx="917.5" cy="336" r="1.4"/>
<circle cx="830.6" cy="505" r="1.4"/>
<circle cx="851" cy="496" r="1.4"/>
<circle cx="493" cy="665" r="1.4"/>
<circle cx="607.5" cy="702" r="1.4"/>
<circle cx="280" cy="439" r="1.4"/>
<path d="M869.6 407.5 L871.8 414.5 L867.4 414.5Z"/>
<path d="M818.5 367.7 L823.5 366.4 L823.4 369.4Z"/>
<path d="M841.0 429.0 L848.1 431.0 L845.6 434.7Z"/>
<path d="M847.5 444.0 L854.1 447.2 L851.1 450.4Z"/>
<path d="M612.5 384.0 L619.5 381.8 L619.5 386.2Z"/>
<path d="M774.0 531.5 L777.9 537.7 L773.7 538.8Z"/>
<path d="M872.3 501.5 L877.4 506.8 L873.5 508.7Z"/>
<path d="M282.8 399.2 L277.6 399.3 L278.5 396.2Z"/>
</g>
<path d="M116.2 228.6 L118.3 226.4 V235.2" stroke="#111" stroke-width="1.25" fill="none" stroke-linejoin="round"/>
<text transform="translate(120.82 235.2) scale(1.424 1)" font-size="12.5" stroke="#111" stroke-width="0.25">0</text>
<text transform="translate(123.34 276.2) scale(1.203 1)" font-size="12.5" stroke="#111" stroke-width="0.25">7</text>
<text transform="translate(120.34 319.2) scale(1.203 1)" font-size="12.5" stroke="#111" stroke-width="0.25">8</text>
<text transform="translate(120.34 359.2) scale(1.203 1)" font-size="12.5" stroke="#111" stroke-width="0.25">6</text>
<text transform="translate(120.34 400.2) scale(1.203 1)" font-size="12.5" stroke="#111" stroke-width="0.25">9</text>
<path d="M114.2 436.0 L116.3 433.8 V442.6" stroke="#111" stroke-width="1.25" fill="none" stroke-linejoin="round"/>
<text transform="translate(119.24 442.6) scale(1.203 1)" font-size="12.5" stroke="#111" stroke-width="0.25">9</text>
<text transform="translate(979.34 229.2) scale(1.203 1)" font-size="12.5" stroke="#111" stroke-width="0.25">4</text>
<path d="M980.7 263.6 L982.8 261.4 V270.2" stroke="#111" stroke-width="1.25" fill="none" stroke-linejoin="round"/>
<text transform="translate(978.34 311.2) scale(1.203 1)" font-size="12.5" stroke="#111" stroke-width="0.25">3</text>
<text transform="translate(978.34 352.6) scale(1.203 1)" font-size="12.5" stroke="#111" stroke-width="0.25">5</text>
<text transform="translate(975.84 394.2) scale(1.203 1)" font-size="12.5" stroke="#111" stroke-width="0.25">2</text>
<path d="M975.2 428.6 L977.3 426.4 V435.2" stroke="#111" stroke-width="1.25" fill="none" stroke-linejoin="round"/>
<text transform="translate(979.24 435.2) scale(1.203 1)" font-size="12.5" stroke="#111" stroke-width="0.25">4</text>
<path d="M975.2 469.6 L977.3 467.4 V476.2" stroke="#111" stroke-width="1.25" fill="none" stroke-linejoin="round"/>
<text transform="translate(979.24 476.2) scale(1.203 1)" font-size="12.5" stroke="#111" stroke-width="0.25">3</text>
<path d="M973.2 509.6 L975.3 507.4 V516.2" stroke="#111" stroke-width="1.25" fill="none" stroke-linejoin="round"/>
<text transform="translate(977.24 516.2) scale(1.203 1)" font-size="12.5" stroke="#111" stroke-width="0.25">2</text>
<path d="M973.2 552.6 L975.3 550.4 V559.2" stroke="#111" stroke-width="1.25" fill="none" stroke-linejoin="round"/>
<text transform="translate(977.24 559.2) scale(1.203 1)" font-size="12.5" stroke="#111" stroke-width="0.25">5</text>
<path d="M735.2 580.6 L737.3 578.4 V587.2" stroke="#111" stroke-width="1.25" fill="none" stroke-linejoin="round"/>
<text transform="translate(740.24 587.2) scale(1.203 1)" font-size="12.5" stroke="#111" stroke-width="0.25">6</text>
<path d="M778.7 582.6 L780.8 580.4 V589.2" stroke="#111" stroke-width="1.25" fill="none" stroke-linejoin="round"/>
<path d="M784.7 582.6 L786.8 580.4 V589.2" stroke="#111" stroke-width="1.25" fill="none" stroke-linejoin="round"/>
<text transform="translate(816.34 590.2) scale(1.203 1)" font-size="12.5" stroke="#111" stroke-width="0.25">2</text>
<text transform="translate(825.82 590.2) scale(1.424 1)" font-size="12.5" stroke="#111" stroke-width="0.25">0</text>
<text transform="translate(857.34 591.2) scale(1.203 1)" font-size="12.5" stroke="#111" stroke-width="0.25">2</text>
<path d="M869.2 584.6 L871.3 582.4 V591.2" stroke="#111" stroke-width="1.25" fill="none" stroke-linejoin="round"/>
<text transform="translate(898.34 592.2) scale(1.203 1)" font-size="12.5" stroke="#111" stroke-width="0.25">2</text>
<text transform="translate(907.24 592.2) scale(1.203 1)" font-size="12.5" stroke="#111" stroke-width="0.25">2</text>
<path d="M422.2 680.6 L424.3 678.4 V687.2" stroke="#111" stroke-width="1.25" fill="none" stroke-linejoin="round"/>
<text transform="translate(427.24 687.2) scale(1.203 1)" font-size="12.5" stroke="#111" stroke-width="0.25">8</text>
<path d="M661.7 685.6 L663.8 683.4 V692.2" stroke="#111" stroke-width="1.25" fill="none" stroke-linejoin="round"/>
<text transform="translate(666.74 692.2) scale(1.203 1)" font-size="12.5" stroke="#111" stroke-width="0.25">8</text>
<path d="M656 186 V179.5 Q656 176.6 659.6 176.8 M654.3 180.2 H659.4" stroke="#111" stroke-width="1.2" fill="none"/>
</svg>
</body></html>
